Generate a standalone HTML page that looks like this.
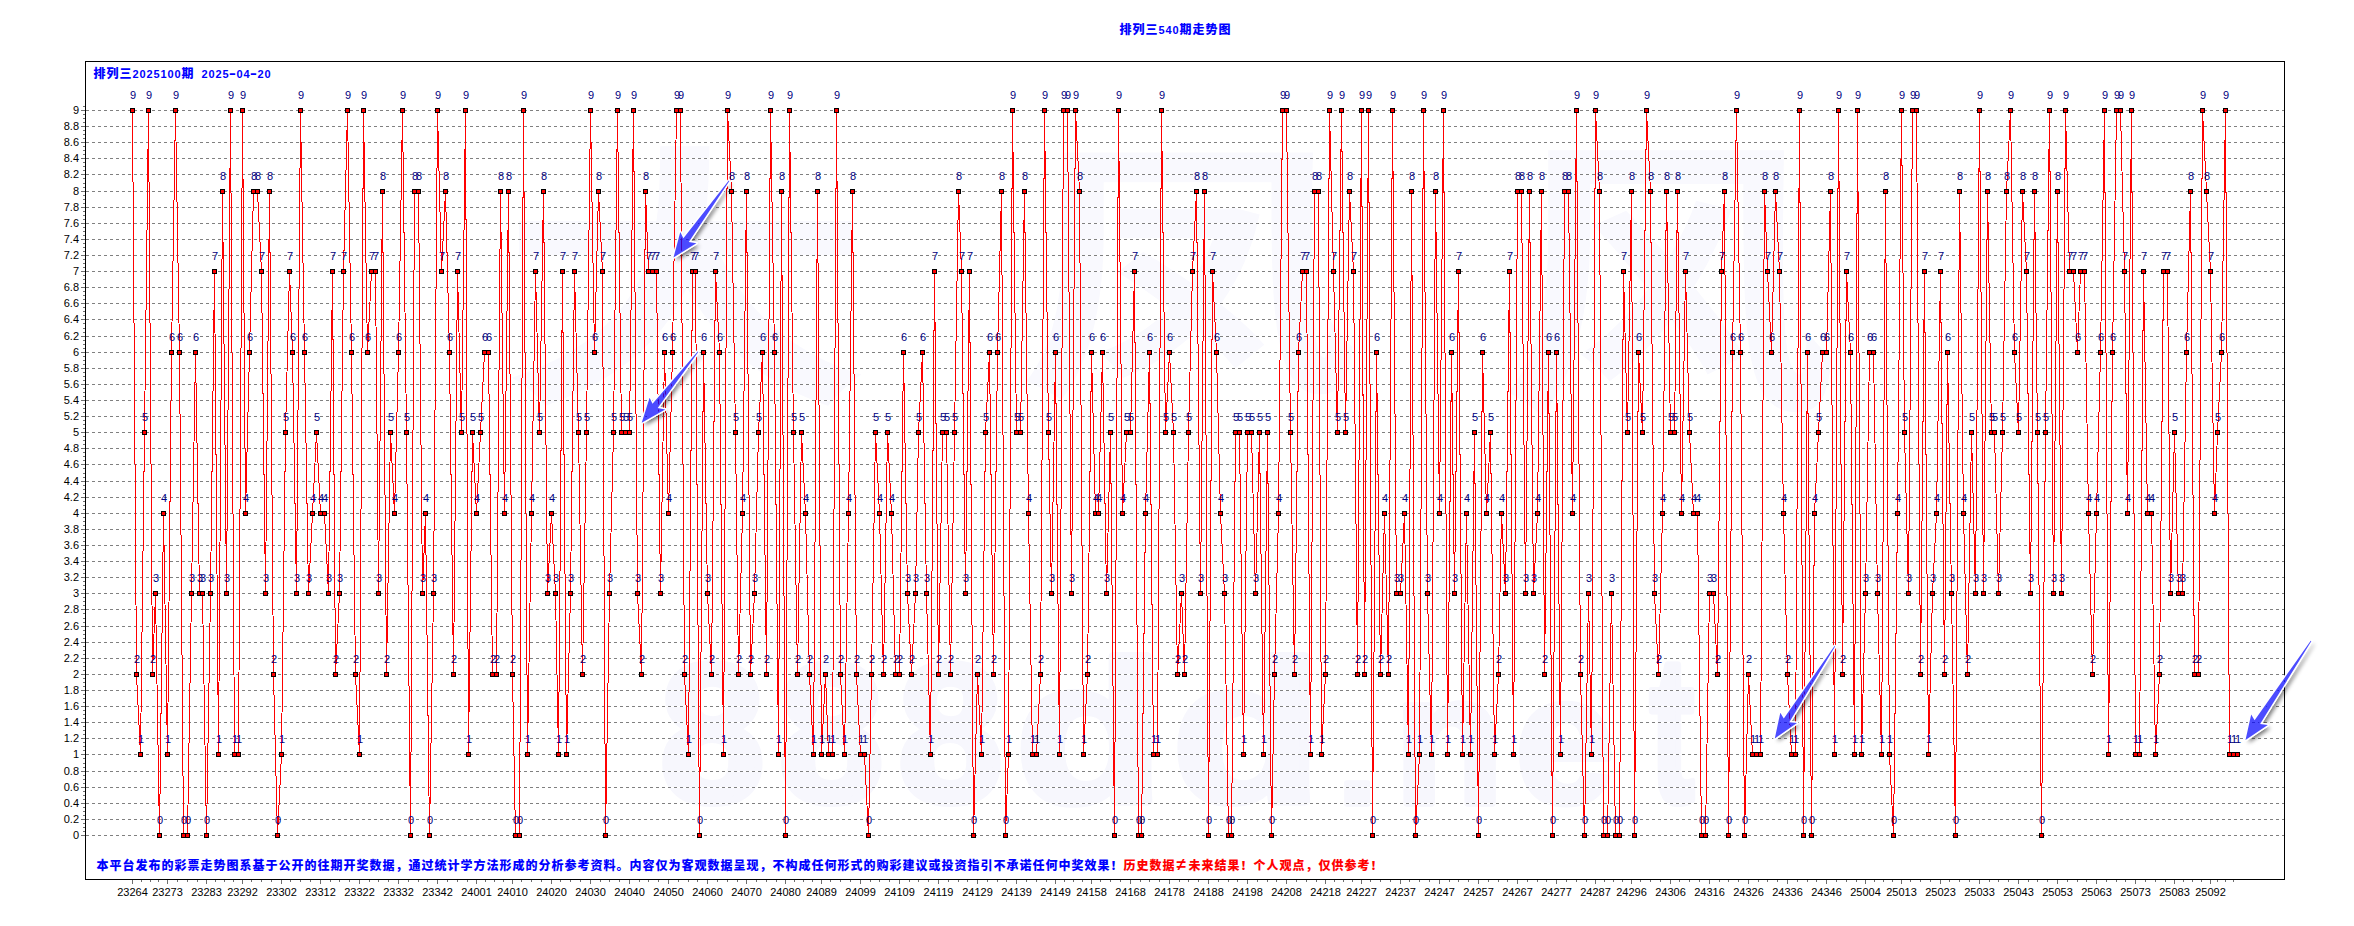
<!DOCTYPE html><html><head><meta charset="utf-8"><title>排列三540期走势图</title><style>
html,body{margin:0;padding:0;background:#fff;overflow:hidden}
svg{display:block}
.cn{font-family:"Liberation Sans","Noto Sans CJK SC",sans-serif;font-weight:900}
.ax{font-family:"Liberation Sans",sans-serif;font-size:11px;fill:#000}
.lb{font-family:"Liberation Sans",sans-serif;font-size:11px;fill:#000080}
</style></head><body>
<svg width="2354" height="926" viewBox="0 0 2354 926">
<rect x="0" y="0" width="2354" height="926" fill="#fff"/>
<g fill="#f7f7fd" stroke="#f7f7fd" stroke-width="8" stroke-linejoin="round" font-family="Liberation Sans,sans-serif" font-weight="bold" font-size="203"><text transform="matrix(0.9267 0 0 0.9706 660.04 801.36)">8</text><text transform="matrix(0.9267 0 0 0.9706 779.04 801.36)">8</text><text transform="matrix(0.9267 0 0 0.9706 898.04 801.36)">8</text><text transform="matrix(1.1942 0 0 0.9886 1015.45 801.32)">d</text><text transform="matrix(1.2039 0 0 0.9886 1172.37 801.32)">d</text><text transform="matrix(0.7107 0 0 0.6967 1337.15 803.80)">.</text><text transform="matrix(0.8776 0 0 0.9073 1394.59 803.40)">n</text><text transform="matrix(0.8704 0 0 0.8991 1515.74 801.60)">e</text><text transform="matrix(0.6587 0 0 1.0209 1649.68 801.36)">t</text></g>
<g fill="#f9f9fe" font-family="Noto Sans CJK SC,sans-serif" font-weight="700" font-size="300"><text transform="matrix(1.2518 0 0 0.9253 497.98 381.94)">大</text><text transform="matrix(1.1324 0 0 0.9015 1019.07 373.76)">凤</text><text transform="matrix(1.1259 0 0 0.9744 1498.87 388.72)">风</text></g>
<text class="cn" y="34" fill="#0000ff"><tspan x="1119.5 1132.5 1145.5" font-size="12">排列三</tspan><tspan x="1158.6 1165.6 1172.6" y="34" font-size="11" font-family="Liberation Sans,sans-serif" font-weight="bold">540</tspan><tspan x="1179.5 1192.5 1205.5 1218.5" font-size="12">期走势图</tspan></text>
<path d="M86 835.5H2284M86 819.5H2284M86 803.5H2284M86 787.5H2284M86 771.5H2284M86 754.5H2284M86 738.5H2284M86 722.5H2284M86 706.5H2284M86 690.5H2284M86 674.5H2284M86 658.5H2284M86 642.5H2284M86 626.5H2284M86 609.5H2284M86 593.5H2284M86 577.5H2284M86 561.5H2284M86 545.5H2284M86 529.5H2284M86 513.5H2284M86 497.5H2284M86 481.5H2284M86 464.5H2284M86 448.5H2284M86 432.5H2284M86 416.5H2284M86 400.5H2284M86 384.5H2284M86 368.5H2284M86 352.5H2284M86 336.5H2284M86 319.5H2284M86 303.5H2284M86 287.5H2284M86 271.5H2284M86 255.5H2284M86 239.5H2284M86 223.5H2284M86 207.5H2284M86 191.5H2284M86 174.5H2284M86 158.5H2284M86 142.5H2284M86 126.5H2284M86 110.5H2284" stroke="#fff" stroke-width="1" fill="none" shape-rendering="crispEdges"/>
<path d="M86 835.5H2284M86 819.5H2284M86 803.5H2284M86 787.5H2284M86 771.5H2284M86 754.5H2284M86 738.5H2284M86 722.5H2284M86 706.5H2284M86 690.5H2284M86 674.5H2284M86 658.5H2284M86 642.5H2284M86 626.5H2284M86 609.5H2284M86 593.5H2284M86 577.5H2284M86 561.5H2284M86 545.5H2284M86 529.5H2284M86 513.5H2284M86 497.5H2284M86 481.5H2284M86 464.5H2284M86 448.5H2284M86 432.5H2284M86 416.5H2284M86 400.5H2284M86 384.5H2284M86 368.5H2284M86 352.5H2284M86 336.5H2284M86 319.5H2284M86 303.5H2284M86 287.5H2284M86 271.5H2284M86 255.5H2284M86 239.5H2284M86 223.5H2284M86 207.5H2284M86 191.5H2284M86 174.5H2284M86 158.5H2284M86 142.5H2284M86 126.5H2284M86 110.5H2284" stroke="#808080" stroke-width="1" stroke-dasharray="3 3" fill="none" shape-rendering="crispEdges"/>
<path d="M81 835.5H85M83 831.5H85M83 827.5H85M83 823.5H85M81 819.5H85M83 815.5H85M83 811.5H85M83 807.5H85M81 803.5H85M83 799.5H85M83 795.5H85M83 791.5H85M81 787.5H85M83 783.5H85M83 779.5H85M83 775.5H85M81 771.5H85M83 767.5H85M83 763.5H85M83 758.5H85M81 754.5H85M83 750.5H85M83 746.5H85M83 742.5H85M81 738.5H85M83 734.5H85M83 730.5H85M83 726.5H85M81 722.5H85M83 718.5H85M83 714.5H85M83 710.5H85M81 706.5H85M83 702.5H85M83 698.5H85M83 694.5H85M81 690.5H85M83 686.5H85M83 682.5H85M83 678.5H85M81 674.5H85M83 670.5H85M83 666.5H85M83 662.5H85M81 658.5H85M83 654.5H85M83 650.5H85M83 646.5H85M81 642.5H85M83 638.5H85M83 634.5H85M83 630.5H85M81 626.5H85M83 622.5H85M83 618.5H85M83 613.5H85M81 609.5H85M83 605.5H85M83 601.5H85M83 597.5H85M81 593.5H85M83 589.5H85M83 585.5H85M83 581.5H85M81 577.5H85M83 573.5H85M83 569.5H85M83 565.5H85M81 561.5H85M83 557.5H85M83 553.5H85M83 549.5H85M81 545.5H85M83 541.5H85M83 537.5H85M83 533.5H85M81 529.5H85M83 525.5H85M83 521.5H85M83 517.5H85M81 513.5H85M83 509.5H85M83 505.5H85M83 501.5H85M81 497.5H85M83 493.5H85M83 489.5H85M83 485.5H85M81 481.5H85M83 477.5H85M83 473.5H85M83 468.5H85M81 464.5H85M83 460.5H85M83 456.5H85M83 452.5H85M81 448.5H85M83 444.5H85M83 440.5H85M83 436.5H85M81 432.5H85M83 428.5H85M83 424.5H85M83 420.5H85M81 416.5H85M83 412.5H85M83 408.5H85M83 404.5H85M81 400.5H85M83 396.5H85M83 392.5H85M83 388.5H85M81 384.5H85M83 380.5H85M83 376.5H85M83 372.5H85M81 368.5H85M83 364.5H85M83 360.5H85M83 356.5H85M81 352.5H85M83 348.5H85M83 344.5H85M83 340.5H85M81 336.5H85M83 332.5H85M83 328.5H85M83 323.5H85M81 319.5H85M83 315.5H85M83 311.5H85M83 307.5H85M81 303.5H85M83 299.5H85M83 295.5H85M83 291.5H85M81 287.5H85M83 283.5H85M83 279.5H85M83 275.5H85M81 271.5H85M83 267.5H85M83 263.5H85M83 259.5H85M81 255.5H85M83 251.5H85M83 247.5H85M83 243.5H85M81 239.5H85M83 235.5H85M83 231.5H85M83 227.5H85M81 223.5H85M83 219.5H85M83 215.5H85M83 211.5H85M81 207.5H85M83 203.5H85M83 199.5H85M83 195.5H85M81 191.5H85M83 187.5H85M83 183.5H85M83 178.5H85M81 174.5H85M83 170.5H85M83 166.5H85M83 162.5H85M81 158.5H85M83 154.5H85M83 150.5H85M83 146.5H85M81 142.5H85M83 138.5H85M83 134.5H85M83 130.5H85M81 126.5H85M83 122.5H85M83 118.5H85M83 114.5H85M81 110.5H85M83 106.5H85" stroke="#707070" stroke-width="1" fill="none" shape-rendering="crispEdges"/>
<text class="ax" x="79" y="839" text-anchor="end">0</text>
<text class="ax" x="79" y="823" text-anchor="end">0.2</text>
<text class="ax" x="79" y="807" text-anchor="end">0.4</text>
<text class="ax" x="79" y="791" text-anchor="end">0.6</text>
<text class="ax" x="79" y="775" text-anchor="end">0.8</text>
<text class="ax" x="79" y="758" text-anchor="end">1</text>
<text class="ax" x="79" y="742" text-anchor="end">1.2</text>
<text class="ax" x="79" y="726" text-anchor="end">1.4</text>
<text class="ax" x="79" y="710" text-anchor="end">1.6</text>
<text class="ax" x="79" y="694" text-anchor="end">1.8</text>
<text class="ax" x="79" y="678" text-anchor="end">2</text>
<text class="ax" x="79" y="662" text-anchor="end">2.2</text>
<text class="ax" x="79" y="646" text-anchor="end">2.4</text>
<text class="ax" x="79" y="630" text-anchor="end">2.6</text>
<text class="ax" x="79" y="613" text-anchor="end">2.8</text>
<text class="ax" x="79" y="597" text-anchor="end">3</text>
<text class="ax" x="79" y="581" text-anchor="end">3.2</text>
<text class="ax" x="79" y="565" text-anchor="end">3.4</text>
<text class="ax" x="79" y="549" text-anchor="end">3.6</text>
<text class="ax" x="79" y="533" text-anchor="end">3.8</text>
<text class="ax" x="79" y="517" text-anchor="end">4</text>
<text class="ax" x="79" y="501" text-anchor="end">4.2</text>
<text class="ax" x="79" y="485" text-anchor="end">4.4</text>
<text class="ax" x="79" y="468" text-anchor="end">4.6</text>
<text class="ax" x="79" y="452" text-anchor="end">4.8</text>
<text class="ax" x="79" y="436" text-anchor="end">5</text>
<text class="ax" x="79" y="420" text-anchor="end">5.2</text>
<text class="ax" x="79" y="404" text-anchor="end">5.4</text>
<text class="ax" x="79" y="388" text-anchor="end">5.6</text>
<text class="ax" x="79" y="372" text-anchor="end">5.8</text>
<text class="ax" x="79" y="356" text-anchor="end">6</text>
<text class="ax" x="79" y="340" text-anchor="end">6.2</text>
<text class="ax" x="79" y="323" text-anchor="end">6.4</text>
<text class="ax" x="79" y="307" text-anchor="end">6.6</text>
<text class="ax" x="79" y="291" text-anchor="end">6.8</text>
<text class="ax" x="79" y="275" text-anchor="end">7</text>
<text class="ax" x="79" y="259" text-anchor="end">7.2</text>
<text class="ax" x="79" y="243" text-anchor="end">7.4</text>
<text class="ax" x="79" y="227" text-anchor="end">7.6</text>
<text class="ax" x="79" y="211" text-anchor="end">7.8</text>
<text class="ax" x="79" y="195" text-anchor="end">8</text>
<text class="ax" x="79" y="178" text-anchor="end">8.2</text>
<text class="ax" x="79" y="162" text-anchor="end">8.4</text>
<text class="ax" x="79" y="146" text-anchor="end">8.6</text>
<text class="ax" x="79" y="130" text-anchor="end">8.8</text>
<text class="ax" x="79" y="114" text-anchor="end">9</text>
<text class="ax" x="132.5" y="896" text-anchor="middle">23264</text>
<text class="ax" x="167.5" y="896" text-anchor="middle">23273</text>
<text class="ax" x="206.5" y="896" text-anchor="middle">23283</text>
<text class="ax" x="242.5" y="896" text-anchor="middle">23292</text>
<text class="ax" x="281.5" y="896" text-anchor="middle">23302</text>
<text class="ax" x="320.5" y="896" text-anchor="middle">23312</text>
<text class="ax" x="359.5" y="896" text-anchor="middle">23322</text>
<text class="ax" x="398.5" y="896" text-anchor="middle">23332</text>
<text class="ax" x="437.5" y="896" text-anchor="middle">23342</text>
<text class="ax" x="476.5" y="896" text-anchor="middle">24001</text>
<text class="ax" x="512.5" y="896" text-anchor="middle">24010</text>
<text class="ax" x="551.5" y="896" text-anchor="middle">24020</text>
<text class="ax" x="590.5" y="896" text-anchor="middle">24030</text>
<text class="ax" x="629.5" y="896" text-anchor="middle">24040</text>
<text class="ax" x="668.5" y="896" text-anchor="middle">24050</text>
<text class="ax" x="707.5" y="896" text-anchor="middle">24060</text>
<text class="ax" x="746.5" y="896" text-anchor="middle">24070</text>
<text class="ax" x="785.5" y="896" text-anchor="middle">24080</text>
<text class="ax" x="821.5" y="896" text-anchor="middle">24089</text>
<text class="ax" x="860.5" y="896" text-anchor="middle">24099</text>
<text class="ax" x="899.5" y="896" text-anchor="middle">24109</text>
<text class="ax" x="938.5" y="896" text-anchor="middle">24119</text>
<text class="ax" x="977.5" y="896" text-anchor="middle">24129</text>
<text class="ax" x="1016.5" y="896" text-anchor="middle">24139</text>
<text class="ax" x="1055.5" y="896" text-anchor="middle">24149</text>
<text class="ax" x="1091.5" y="896" text-anchor="middle">24158</text>
<text class="ax" x="1130.5" y="896" text-anchor="middle">24168</text>
<text class="ax" x="1169.5" y="896" text-anchor="middle">24178</text>
<text class="ax" x="1208.5" y="896" text-anchor="middle">24188</text>
<text class="ax" x="1247.5" y="896" text-anchor="middle">24198</text>
<text class="ax" x="1286.5" y="896" text-anchor="middle">24208</text>
<text class="ax" x="1325.5" y="896" text-anchor="middle">24218</text>
<text class="ax" x="1361.5" y="896" text-anchor="middle">24227</text>
<text class="ax" x="1400.5" y="896" text-anchor="middle">24237</text>
<text class="ax" x="1439.5" y="896" text-anchor="middle">24247</text>
<text class="ax" x="1478.5" y="896" text-anchor="middle">24257</text>
<text class="ax" x="1517.5" y="896" text-anchor="middle">24267</text>
<text class="ax" x="1556.5" y="896" text-anchor="middle">24277</text>
<text class="ax" x="1595.5" y="896" text-anchor="middle">24287</text>
<text class="ax" x="1631.5" y="896" text-anchor="middle">24296</text>
<text class="ax" x="1670.5" y="896" text-anchor="middle">24306</text>
<text class="ax" x="1709.5" y="896" text-anchor="middle">24316</text>
<text class="ax" x="1748.5" y="896" text-anchor="middle">24326</text>
<text class="ax" x="1787.5" y="896" text-anchor="middle">24336</text>
<text class="ax" x="1826.5" y="896" text-anchor="middle">24346</text>
<text class="ax" x="1865.5" y="896" text-anchor="middle">25004</text>
<text class="ax" x="1901.5" y="896" text-anchor="middle">25013</text>
<text class="ax" x="1940.5" y="896" text-anchor="middle">25023</text>
<text class="ax" x="1979.5" y="896" text-anchor="middle">25033</text>
<text class="ax" x="2018.5" y="896" text-anchor="middle">25043</text>
<text class="ax" x="2057.5" y="896" text-anchor="middle">25053</text>
<text class="ax" x="2096.5" y="896" text-anchor="middle">25063</text>
<text class="ax" x="2135.5" y="896" text-anchor="middle">25073</text>
<text class="ax" x="2174.5" y="896" text-anchor="middle">25083</text>
<text class="ax" x="2210.5" y="896" text-anchor="middle">25092</text>
<path d="M132.5 880V884M141.5 880V882M150.5 880V882M158.5 880V882M167.5 880V884M177.5 880V882M187.5 880V882M197.5 880V882M206.5 880V884M215.5 880V882M224.5 880V882M233.5 880V882M242.5 880V884M251.5 880V882M261.5 880V882M271.5 880V882M281.5 880V884M290.5 880V882M300.5 880V882M310.5 880V882M320.5 880V884M330.5 880V882M339.5 880V882M349.5 880V882M359.5 880V884M369.5 880V882M378.5 880V882M388.5 880V882M398.5 880V884M408.5 880V882M418.5 880V882M427.5 880V882M437.5 880V884M447.5 880V882M457.5 880V882M467.5 880V882M476.5 880V884M485.5 880V882M494.5 880V882M503.5 880V882M512.5 880V884M521.5 880V882M531.5 880V882M541.5 880V882M551.5 880V884M560.5 880V882M570.5 880V882M580.5 880V882M590.5 880V884M600.5 880V882M609.5 880V882M619.5 880V882M629.5 880V884M639.5 880V882M648.5 880V882M658.5 880V882M668.5 880V884M678.5 880V882M688.5 880V882M697.5 880V882M707.5 880V884M717.5 880V882M727.5 880V882M737.5 880V882M746.5 880V884M756.5 880V882M766.5 880V882M776.5 880V882M785.5 880V884M794.5 880V882M803.5 880V882M812.5 880V882M821.5 880V884M830.5 880V882M840.5 880V882M850.5 880V882M860.5 880V884M870.5 880V882M879.5 880V882M889.5 880V882M899.5 880V884M909.5 880V882M918.5 880V882M928.5 880V882M938.5 880V884M948.5 880V882M958.5 880V882M967.5 880V882M977.5 880V884M987.5 880V882M997.5 880V882M1006.5 880V882M1016.5 880V884M1026.5 880V882M1036.5 880V882M1046.5 880V882M1055.5 880V884M1064.5 880V882M1073.5 880V882M1082.5 880V882M1091.5 880V884M1100.5 880V882M1110.5 880V882M1120.5 880V882M1130.5 880V884M1140.5 880V882M1149.5 880V882M1159.5 880V882M1169.5 880V884M1179.5 880V882M1188.5 880V882M1198.5 880V882M1208.5 880V884M1218.5 880V882M1228.5 880V882M1237.5 880V882M1247.5 880V884M1257.5 880V882M1267.5 880V882M1276.5 880V882M1286.5 880V884M1296.5 880V882M1306.5 880V882M1316.5 880V882M1325.5 880V884M1334.5 880V882M1343.5 880V882M1352.5 880V882M1361.5 880V884M1370.5 880V882M1380.5 880V882M1390.5 880V882M1400.5 880V884M1409.5 880V882M1419.5 880V882M1429.5 880V882M1439.5 880V884M1449.5 880V882M1458.5 880V882M1468.5 880V882M1478.5 880V884M1488.5 880V882M1498.5 880V882M1507.5 880V882M1517.5 880V884M1527.5 880V882M1537.5 880V882M1546.5 880V882M1556.5 880V884M1566.5 880V882M1576.5 880V882M1586.5 880V882M1595.5 880V884M1604.5 880V882M1613.5 880V882M1622.5 880V882M1631.5 880V884M1640.5 880V882M1650.5 880V882M1660.5 880V882M1670.5 880V884M1679.5 880V882M1689.5 880V882M1699.5 880V882M1709.5 880V884M1719.5 880V882M1728.5 880V882M1738.5 880V882M1748.5 880V884M1758.5 880V882M1767.5 880V882M1777.5 880V882M1787.5 880V884M1797.5 880V882M1807.5 880V882M1816.5 880V882M1826.5 880V884M1836.5 880V882M1846.5 880V882M1856.5 880V882M1865.5 880V884M1874.5 880V882M1883.5 880V882M1892.5 880V882M1901.5 880V884M1910.5 880V882M1920.5 880V882M1930.5 880V882M1940.5 880V884M1949.5 880V882M1959.5 880V882M1969.5 880V882M1979.5 880V884M1989.5 880V882M1998.5 880V882M2008.5 880V882M2018.5 880V884M2028.5 880V882M2037.5 880V882M2047.5 880V882M2057.5 880V884M2067.5 880V882M2077.5 880V882M2086.5 880V882M2096.5 880V884M2106.5 880V882M2116.5 880V882M2125.5 880V882M2135.5 880V884M2145.5 880V882M2155.5 880V882M2165.5 880V882M2174.5 880V884M2183.5 880V882M2192.5 880V882M2201.5 880V882M2210.5 880V884M2217.5 880V882M2225.5 880V882M2233.5 880V882" stroke="#707070" stroke-width="1" fill="none" shape-rendering="crispEdges"/>
<polyline points="132.5,110.5 136.5,674.5 140.5,754.5 144.5,432.5 148.5,110.5 152.5,674.5 155.5,593.5 159.5,835.5 163.5,513.5 167.5,754.5 171.5,352.5 175.5,110.5 179.5,352.5 183.5,835.5 187.5,835.5 191.5,593.5 195.5,352.5 199.5,593.5 202.5,593.5 206.5,835.5 210.5,593.5 214.5,271.5 218.5,754.5 222.5,191.5 226.5,593.5 230.5,110.5 234.5,754.5 238.5,754.5 242.5,110.5 245.5,513.5 249.5,352.5 253.5,191.5 257.5,191.5 261.5,271.5 265.5,593.5 269.5,191.5 273.5,674.5 277.5,835.5 281.5,754.5 285.5,432.5 289.5,271.5 292.5,352.5 296.5,593.5 300.5,110.5 304.5,352.5 308.5,593.5 312.5,513.5 316.5,432.5 320.5,513.5 324.5,513.5 328.5,593.5 332.5,271.5 335.5,674.5 339.5,593.5 343.5,271.5 347.5,110.5 351.5,352.5 355.5,674.5 359.5,754.5 363.5,110.5 367.5,352.5 371.5,271.5 375.5,271.5 378.5,593.5 382.5,191.5 386.5,674.5 390.5,432.5 394.5,513.5 398.5,352.5 402.5,110.5 406.5,432.5 410.5,835.5 414.5,191.5 418.5,191.5 422.5,593.5 425.5,513.5 429.5,835.5 433.5,593.5 437.5,110.5 441.5,271.5 445.5,191.5 449.5,352.5 453.5,674.5 457.5,271.5 461.5,432.5 465.5,110.5 468.5,754.5 472.5,432.5 476.5,513.5 480.5,432.5 484.5,352.5 488.5,352.5 492.5,674.5 496.5,674.5 500.5,191.5 504.5,513.5 508.5,191.5 512.5,674.5 515.5,835.5 519.5,835.5 523.5,110.5 527.5,754.5 531.5,513.5 535.5,271.5 539.5,432.5 543.5,191.5 547.5,593.5 551.5,513.5 555.5,593.5 558.5,754.5 562.5,271.5 566.5,754.5 570.5,593.5 574.5,271.5 578.5,432.5 582.5,674.5 586.5,432.5 590.5,110.5 594.5,352.5 598.5,191.5 602.5,271.5 605.5,835.5 609.5,593.5 613.5,432.5 617.5,110.5 621.5,432.5 625.5,432.5 629.5,432.5 633.5,110.5 637.5,593.5 641.5,674.5 645.5,191.5 648.5,271.5 652.5,271.5 656.5,271.5 660.5,593.5 664.5,352.5 668.5,513.5 672.5,352.5 676.5,110.5 680.5,110.5 684.5,674.5 688.5,754.5 692.5,271.5 695.5,271.5 699.5,835.5 703.5,352.5 707.5,593.5 711.5,674.5 715.5,271.5 719.5,352.5 723.5,754.5 727.5,110.5 731.5,191.5 735.5,432.5 738.5,674.5 742.5,513.5 746.5,191.5 750.5,674.5 754.5,593.5 758.5,432.5 762.5,352.5 766.5,674.5 770.5,110.5 774.5,352.5 778.5,754.5 781.5,191.5 785.5,835.5 789.5,110.5 793.5,432.5 797.5,674.5 801.5,432.5 805.5,513.5 809.5,674.5 813.5,754.5 817.5,191.5 821.5,754.5 825.5,674.5 828.5,754.5 832.5,754.5 836.5,110.5 840.5,674.5 844.5,754.5 848.5,513.5 852.5,191.5 856.5,674.5 860.5,754.5 864.5,754.5 868.5,835.5 871.5,674.5 875.5,432.5 879.5,513.5 883.5,674.5 887.5,432.5 891.5,513.5 895.5,674.5 899.5,674.5 903.5,352.5 907.5,593.5 911.5,674.5 915.5,593.5 918.5,432.5 922.5,352.5 926.5,593.5 930.5,754.5 934.5,271.5 938.5,674.5 942.5,432.5 946.5,432.5 950.5,674.5 954.5,432.5 958.5,191.5 961.5,271.5 965.5,593.5 969.5,271.5 973.5,835.5 977.5,674.5 981.5,754.5 985.5,432.5 989.5,352.5 993.5,674.5 997.5,352.5 1001.5,191.5 1005.5,835.5 1008.5,754.5 1012.5,110.5 1016.5,432.5 1020.5,432.5 1024.5,191.5 1028.5,513.5 1032.5,754.5 1036.5,754.5 1040.5,674.5 1044.5,110.5 1048.5,432.5 1051.5,593.5 1055.5,352.5 1059.5,754.5 1063.5,110.5 1067.5,110.5 1071.5,593.5 1075.5,110.5 1079.5,191.5 1083.5,754.5 1087.5,674.5 1091.5,352.5 1095.5,513.5 1098.5,513.5 1102.5,352.5 1106.5,593.5 1110.5,432.5 1114.5,835.5 1118.5,110.5 1122.5,513.5 1126.5,432.5 1130.5,432.5 1134.5,271.5 1138.5,835.5 1141.5,835.5 1145.5,513.5 1149.5,352.5 1153.5,754.5 1157.5,754.5 1161.5,110.5 1165.5,432.5 1169.5,352.5 1173.5,432.5 1177.5,674.5 1181.5,593.5 1184.5,674.5 1188.5,432.5 1192.5,271.5 1196.5,191.5 1200.5,593.5 1204.5,191.5 1208.5,835.5 1212.5,271.5 1216.5,352.5 1220.5,513.5 1224.5,593.5 1228.5,835.5 1231.5,835.5 1235.5,432.5 1239.5,432.5 1243.5,754.5 1247.5,432.5 1251.5,432.5 1255.5,593.5 1259.5,432.5 1263.5,754.5 1267.5,432.5 1271.5,835.5 1274.5,674.5 1278.5,513.5 1282.5,110.5 1286.5,110.5 1290.5,432.5 1294.5,674.5 1298.5,352.5 1302.5,271.5 1306.5,271.5 1310.5,754.5 1314.5,191.5 1318.5,191.5 1321.5,754.5 1325.5,674.5 1329.5,110.5 1333.5,271.5 1337.5,432.5 1341.5,110.5 1345.5,432.5 1349.5,191.5 1353.5,271.5 1357.5,674.5 1361.5,110.5 1364.5,674.5 1368.5,110.5 1372.5,835.5 1376.5,352.5 1380.5,674.5 1384.5,513.5 1388.5,674.5 1392.5,110.5 1396.5,593.5 1400.5,593.5 1404.5,513.5 1408.5,754.5 1411.5,191.5 1415.5,835.5 1419.5,754.5 1423.5,110.5 1427.5,593.5 1431.5,754.5 1435.5,191.5 1439.5,513.5 1443.5,110.5 1447.5,754.5 1451.5,352.5 1454.5,593.5 1458.5,271.5 1462.5,754.5 1466.5,513.5 1470.5,754.5 1474.5,432.5 1478.5,835.5 1482.5,352.5 1486.5,513.5 1490.5,432.5 1494.5,754.5 1498.5,674.5 1501.5,513.5 1505.5,593.5 1509.5,271.5 1513.5,754.5 1517.5,191.5 1521.5,191.5 1525.5,593.5 1529.5,191.5 1533.5,593.5 1537.5,513.5 1541.5,191.5 1544.5,674.5 1548.5,352.5 1552.5,835.5 1556.5,352.5 1560.5,754.5 1564.5,191.5 1568.5,191.5 1572.5,513.5 1576.5,110.5 1580.5,674.5 1584.5,835.5 1588.5,593.5 1591.5,754.5 1595.5,110.5 1599.5,191.5 1603.5,835.5 1607.5,835.5 1611.5,593.5 1615.5,835.5 1619.5,835.5 1623.5,271.5 1627.5,432.5 1631.5,191.5 1634.5,835.5 1638.5,352.5 1642.5,432.5 1646.5,110.5 1650.5,191.5 1654.5,593.5 1658.5,674.5 1662.5,513.5 1666.5,191.5 1670.5,432.5 1674.5,432.5 1677.5,191.5 1681.5,513.5 1685.5,271.5 1689.5,432.5 1693.5,513.5 1697.5,513.5 1701.5,835.5 1705.5,835.5 1709.5,593.5 1713.5,593.5 1717.5,674.5 1721.5,271.5 1724.5,191.5 1728.5,835.5 1732.5,352.5 1736.5,110.5 1740.5,352.5 1744.5,835.5 1748.5,674.5 1752.5,754.5 1756.5,754.5 1760.5,754.5 1764.5,191.5 1767.5,271.5 1771.5,352.5 1775.5,191.5 1779.5,271.5 1783.5,513.5 1787.5,674.5 1791.5,754.5 1795.5,754.5 1799.5,110.5 1803.5,835.5 1807.5,352.5 1811.5,835.5 1814.5,513.5 1818.5,432.5 1822.5,352.5 1826.5,352.5 1830.5,191.5 1834.5,754.5 1838.5,110.5 1842.5,674.5 1846.5,271.5 1850.5,352.5 1854.5,754.5 1857.5,110.5 1861.5,754.5 1865.5,593.5 1869.5,352.5 1873.5,352.5 1877.5,593.5 1881.5,754.5 1885.5,191.5 1889.5,754.5 1893.5,835.5 1897.5,513.5 1901.5,110.5 1904.5,432.5 1908.5,593.5 1912.5,110.5 1916.5,110.5 1920.5,674.5 1924.5,271.5 1928.5,754.5 1932.5,593.5 1936.5,513.5 1940.5,271.5 1944.5,674.5 1947.5,352.5 1951.5,593.5 1955.5,835.5 1959.5,191.5 1963.5,513.5 1967.5,674.5 1971.5,432.5 1975.5,593.5 1979.5,110.5 1983.5,593.5 1987.5,191.5 1991.5,432.5 1994.5,432.5 1998.5,593.5 2002.5,432.5 2006.5,191.5 2010.5,110.5 2014.5,352.5 2018.5,432.5 2022.5,191.5 2026.5,271.5 2030.5,593.5 2034.5,191.5 2037.5,432.5 2041.5,835.5 2045.5,432.5 2049.5,110.5 2053.5,593.5 2057.5,191.5 2061.5,593.5 2065.5,110.5 2069.5,271.5 2073.5,271.5 2077.5,352.5 2080.5,271.5 2084.5,271.5 2088.5,513.5 2092.5,674.5 2096.5,513.5 2100.5,352.5 2104.5,110.5 2108.5,754.5 2112.5,352.5 2116.5,110.5 2120.5,110.5 2124.5,271.5 2127.5,513.5 2131.5,110.5 2135.5,754.5 2139.5,754.5 2143.5,271.5 2147.5,513.5 2151.5,513.5 2155.5,754.5 2159.5,674.5 2163.5,271.5 2167.5,271.5 2170.5,593.5 2174.5,432.5 2178.5,593.5 2182.5,593.5 2186.5,352.5 2190.5,191.5 2194.5,674.5 2198.5,674.5 2202.5,110.5 2206.5,191.5 2210.5,271.5 2214.5,513.5 2217.5,432.5 2221.5,352.5 2225.5,110.5 2229.5,754.5 2233.5,754.5 2237.5,754.5" fill="none" stroke="#ff0000" stroke-width="1" shape-rendering="crispEdges"/>
<defs><g id="m"><rect x="-2" y="-2" width="5" height="5" fill="#000"/><rect x="-1" y="-1" width="3" height="3" fill="#f00"/></g></defs>
<g shape-rendering="crispEdges"><use href="#m" x="132" y="110"/><use href="#m" x="136" y="674"/><use href="#m" x="140" y="754"/><use href="#m" x="144" y="432"/><use href="#m" x="148" y="110"/><use href="#m" x="152" y="674"/><use href="#m" x="155" y="593"/><use href="#m" x="159" y="835"/><use href="#m" x="163" y="513"/><use href="#m" x="167" y="754"/><use href="#m" x="171" y="352"/><use href="#m" x="175" y="110"/><use href="#m" x="179" y="352"/><use href="#m" x="183" y="835"/><use href="#m" x="187" y="835"/><use href="#m" x="191" y="593"/><use href="#m" x="195" y="352"/><use href="#m" x="199" y="593"/><use href="#m" x="202" y="593"/><use href="#m" x="206" y="835"/><use href="#m" x="210" y="593"/><use href="#m" x="214" y="271"/><use href="#m" x="218" y="754"/><use href="#m" x="222" y="191"/><use href="#m" x="226" y="593"/><use href="#m" x="230" y="110"/><use href="#m" x="234" y="754"/><use href="#m" x="238" y="754"/><use href="#m" x="242" y="110"/><use href="#m" x="245" y="513"/><use href="#m" x="249" y="352"/><use href="#m" x="253" y="191"/><use href="#m" x="257" y="191"/><use href="#m" x="261" y="271"/><use href="#m" x="265" y="593"/><use href="#m" x="269" y="191"/><use href="#m" x="273" y="674"/><use href="#m" x="277" y="835"/><use href="#m" x="281" y="754"/><use href="#m" x="285" y="432"/><use href="#m" x="289" y="271"/><use href="#m" x="292" y="352"/><use href="#m" x="296" y="593"/><use href="#m" x="300" y="110"/><use href="#m" x="304" y="352"/><use href="#m" x="308" y="593"/><use href="#m" x="312" y="513"/><use href="#m" x="316" y="432"/><use href="#m" x="320" y="513"/><use href="#m" x="324" y="513"/><use href="#m" x="328" y="593"/><use href="#m" x="332" y="271"/><use href="#m" x="335" y="674"/><use href="#m" x="339" y="593"/><use href="#m" x="343" y="271"/><use href="#m" x="347" y="110"/><use href="#m" x="351" y="352"/><use href="#m" x="355" y="674"/><use href="#m" x="359" y="754"/><use href="#m" x="363" y="110"/><use href="#m" x="367" y="352"/><use href="#m" x="371" y="271"/><use href="#m" x="375" y="271"/><use href="#m" x="378" y="593"/><use href="#m" x="382" y="191"/><use href="#m" x="386" y="674"/><use href="#m" x="390" y="432"/><use href="#m" x="394" y="513"/><use href="#m" x="398" y="352"/><use href="#m" x="402" y="110"/><use href="#m" x="406" y="432"/><use href="#m" x="410" y="835"/><use href="#m" x="414" y="191"/><use href="#m" x="418" y="191"/><use href="#m" x="422" y="593"/><use href="#m" x="425" y="513"/><use href="#m" x="429" y="835"/><use href="#m" x="433" y="593"/><use href="#m" x="437" y="110"/><use href="#m" x="441" y="271"/><use href="#m" x="445" y="191"/><use href="#m" x="449" y="352"/><use href="#m" x="453" y="674"/><use href="#m" x="457" y="271"/><use href="#m" x="461" y="432"/><use href="#m" x="465" y="110"/><use href="#m" x="468" y="754"/><use href="#m" x="472" y="432"/><use href="#m" x="476" y="513"/><use href="#m" x="480" y="432"/><use href="#m" x="484" y="352"/><use href="#m" x="488" y="352"/><use href="#m" x="492" y="674"/><use href="#m" x="496" y="674"/><use href="#m" x="500" y="191"/><use href="#m" x="504" y="513"/><use href="#m" x="508" y="191"/><use href="#m" x="512" y="674"/><use href="#m" x="515" y="835"/><use href="#m" x="519" y="835"/><use href="#m" x="523" y="110"/><use href="#m" x="527" y="754"/><use href="#m" x="531" y="513"/><use href="#m" x="535" y="271"/><use href="#m" x="539" y="432"/><use href="#m" x="543" y="191"/><use href="#m" x="547" y="593"/><use href="#m" x="551" y="513"/><use href="#m" x="555" y="593"/><use href="#m" x="558" y="754"/><use href="#m" x="562" y="271"/><use href="#m" x="566" y="754"/><use href="#m" x="570" y="593"/><use href="#m" x="574" y="271"/><use href="#m" x="578" y="432"/><use href="#m" x="582" y="674"/><use href="#m" x="586" y="432"/><use href="#m" x="590" y="110"/><use href="#m" x="594" y="352"/><use href="#m" x="598" y="191"/><use href="#m" x="602" y="271"/><use href="#m" x="605" y="835"/><use href="#m" x="609" y="593"/><use href="#m" x="613" y="432"/><use href="#m" x="617" y="110"/><use href="#m" x="621" y="432"/><use href="#m" x="625" y="432"/><use href="#m" x="629" y="432"/><use href="#m" x="633" y="110"/><use href="#m" x="637" y="593"/><use href="#m" x="641" y="674"/><use href="#m" x="645" y="191"/><use href="#m" x="648" y="271"/><use href="#m" x="652" y="271"/><use href="#m" x="656" y="271"/><use href="#m" x="660" y="593"/><use href="#m" x="664" y="352"/><use href="#m" x="668" y="513"/><use href="#m" x="672" y="352"/><use href="#m" x="676" y="110"/><use href="#m" x="680" y="110"/><use href="#m" x="684" y="674"/><use href="#m" x="688" y="754"/><use href="#m" x="692" y="271"/><use href="#m" x="695" y="271"/><use href="#m" x="699" y="835"/><use href="#m" x="703" y="352"/><use href="#m" x="707" y="593"/><use href="#m" x="711" y="674"/><use href="#m" x="715" y="271"/><use href="#m" x="719" y="352"/><use href="#m" x="723" y="754"/><use href="#m" x="727" y="110"/><use href="#m" x="731" y="191"/><use href="#m" x="735" y="432"/><use href="#m" x="738" y="674"/><use href="#m" x="742" y="513"/><use href="#m" x="746" y="191"/><use href="#m" x="750" y="674"/><use href="#m" x="754" y="593"/><use href="#m" x="758" y="432"/><use href="#m" x="762" y="352"/><use href="#m" x="766" y="674"/><use href="#m" x="770" y="110"/><use href="#m" x="774" y="352"/><use href="#m" x="778" y="754"/><use href="#m" x="781" y="191"/><use href="#m" x="785" y="835"/><use href="#m" x="789" y="110"/><use href="#m" x="793" y="432"/><use href="#m" x="797" y="674"/><use href="#m" x="801" y="432"/><use href="#m" x="805" y="513"/><use href="#m" x="809" y="674"/><use href="#m" x="813" y="754"/><use href="#m" x="817" y="191"/><use href="#m" x="821" y="754"/><use href="#m" x="825" y="674"/><use href="#m" x="828" y="754"/><use href="#m" x="832" y="754"/><use href="#m" x="836" y="110"/><use href="#m" x="840" y="674"/><use href="#m" x="844" y="754"/><use href="#m" x="848" y="513"/><use href="#m" x="852" y="191"/><use href="#m" x="856" y="674"/><use href="#m" x="860" y="754"/><use href="#m" x="864" y="754"/><use href="#m" x="868" y="835"/><use href="#m" x="871" y="674"/><use href="#m" x="875" y="432"/><use href="#m" x="879" y="513"/><use href="#m" x="883" y="674"/><use href="#m" x="887" y="432"/><use href="#m" x="891" y="513"/><use href="#m" x="895" y="674"/><use href="#m" x="899" y="674"/><use href="#m" x="903" y="352"/><use href="#m" x="907" y="593"/><use href="#m" x="911" y="674"/><use href="#m" x="915" y="593"/><use href="#m" x="918" y="432"/><use href="#m" x="922" y="352"/><use href="#m" x="926" y="593"/><use href="#m" x="930" y="754"/><use href="#m" x="934" y="271"/><use href="#m" x="938" y="674"/><use href="#m" x="942" y="432"/><use href="#m" x="946" y="432"/><use href="#m" x="950" y="674"/><use href="#m" x="954" y="432"/><use href="#m" x="958" y="191"/><use href="#m" x="961" y="271"/><use href="#m" x="965" y="593"/><use href="#m" x="969" y="271"/><use href="#m" x="973" y="835"/><use href="#m" x="977" y="674"/><use href="#m" x="981" y="754"/><use href="#m" x="985" y="432"/><use href="#m" x="989" y="352"/><use href="#m" x="993" y="674"/><use href="#m" x="997" y="352"/><use href="#m" x="1001" y="191"/><use href="#m" x="1005" y="835"/><use href="#m" x="1008" y="754"/><use href="#m" x="1012" y="110"/><use href="#m" x="1016" y="432"/><use href="#m" x="1020" y="432"/><use href="#m" x="1024" y="191"/><use href="#m" x="1028" y="513"/><use href="#m" x="1032" y="754"/><use href="#m" x="1036" y="754"/><use href="#m" x="1040" y="674"/><use href="#m" x="1044" y="110"/><use href="#m" x="1048" y="432"/><use href="#m" x="1051" y="593"/><use href="#m" x="1055" y="352"/><use href="#m" x="1059" y="754"/><use href="#m" x="1063" y="110"/><use href="#m" x="1067" y="110"/><use href="#m" x="1071" y="593"/><use href="#m" x="1075" y="110"/><use href="#m" x="1079" y="191"/><use href="#m" x="1083" y="754"/><use href="#m" x="1087" y="674"/><use href="#m" x="1091" y="352"/><use href="#m" x="1095" y="513"/><use href="#m" x="1098" y="513"/><use href="#m" x="1102" y="352"/><use href="#m" x="1106" y="593"/><use href="#m" x="1110" y="432"/><use href="#m" x="1114" y="835"/><use href="#m" x="1118" y="110"/><use href="#m" x="1122" y="513"/><use href="#m" x="1126" y="432"/><use href="#m" x="1130" y="432"/><use href="#m" x="1134" y="271"/><use href="#m" x="1138" y="835"/><use href="#m" x="1141" y="835"/><use href="#m" x="1145" y="513"/><use href="#m" x="1149" y="352"/><use href="#m" x="1153" y="754"/><use href="#m" x="1157" y="754"/><use href="#m" x="1161" y="110"/><use href="#m" x="1165" y="432"/><use href="#m" x="1169" y="352"/><use href="#m" x="1173" y="432"/><use href="#m" x="1177" y="674"/><use href="#m" x="1181" y="593"/><use href="#m" x="1184" y="674"/><use href="#m" x="1188" y="432"/><use href="#m" x="1192" y="271"/><use href="#m" x="1196" y="191"/><use href="#m" x="1200" y="593"/><use href="#m" x="1204" y="191"/><use href="#m" x="1208" y="835"/><use href="#m" x="1212" y="271"/><use href="#m" x="1216" y="352"/><use href="#m" x="1220" y="513"/><use href="#m" x="1224" y="593"/><use href="#m" x="1228" y="835"/><use href="#m" x="1231" y="835"/><use href="#m" x="1235" y="432"/><use href="#m" x="1239" y="432"/><use href="#m" x="1243" y="754"/><use href="#m" x="1247" y="432"/><use href="#m" x="1251" y="432"/><use href="#m" x="1255" y="593"/><use href="#m" x="1259" y="432"/><use href="#m" x="1263" y="754"/><use href="#m" x="1267" y="432"/><use href="#m" x="1271" y="835"/><use href="#m" x="1274" y="674"/><use href="#m" x="1278" y="513"/><use href="#m" x="1282" y="110"/><use href="#m" x="1286" y="110"/><use href="#m" x="1290" y="432"/><use href="#m" x="1294" y="674"/><use href="#m" x="1298" y="352"/><use href="#m" x="1302" y="271"/><use href="#m" x="1306" y="271"/><use href="#m" x="1310" y="754"/><use href="#m" x="1314" y="191"/><use href="#m" x="1318" y="191"/><use href="#m" x="1321" y="754"/><use href="#m" x="1325" y="674"/><use href="#m" x="1329" y="110"/><use href="#m" x="1333" y="271"/><use href="#m" x="1337" y="432"/><use href="#m" x="1341" y="110"/><use href="#m" x="1345" y="432"/><use href="#m" x="1349" y="191"/><use href="#m" x="1353" y="271"/><use href="#m" x="1357" y="674"/><use href="#m" x="1361" y="110"/><use href="#m" x="1364" y="674"/><use href="#m" x="1368" y="110"/><use href="#m" x="1372" y="835"/><use href="#m" x="1376" y="352"/><use href="#m" x="1380" y="674"/><use href="#m" x="1384" y="513"/><use href="#m" x="1388" y="674"/><use href="#m" x="1392" y="110"/><use href="#m" x="1396" y="593"/><use href="#m" x="1400" y="593"/><use href="#m" x="1404" y="513"/><use href="#m" x="1408" y="754"/><use href="#m" x="1411" y="191"/><use href="#m" x="1415" y="835"/><use href="#m" x="1419" y="754"/><use href="#m" x="1423" y="110"/><use href="#m" x="1427" y="593"/><use href="#m" x="1431" y="754"/><use href="#m" x="1435" y="191"/><use href="#m" x="1439" y="513"/><use href="#m" x="1443" y="110"/><use href="#m" x="1447" y="754"/><use href="#m" x="1451" y="352"/><use href="#m" x="1454" y="593"/><use href="#m" x="1458" y="271"/><use href="#m" x="1462" y="754"/><use href="#m" x="1466" y="513"/><use href="#m" x="1470" y="754"/><use href="#m" x="1474" y="432"/><use href="#m" x="1478" y="835"/><use href="#m" x="1482" y="352"/><use href="#m" x="1486" y="513"/><use href="#m" x="1490" y="432"/><use href="#m" x="1494" y="754"/><use href="#m" x="1498" y="674"/><use href="#m" x="1501" y="513"/><use href="#m" x="1505" y="593"/><use href="#m" x="1509" y="271"/><use href="#m" x="1513" y="754"/><use href="#m" x="1517" y="191"/><use href="#m" x="1521" y="191"/><use href="#m" x="1525" y="593"/><use href="#m" x="1529" y="191"/><use href="#m" x="1533" y="593"/><use href="#m" x="1537" y="513"/><use href="#m" x="1541" y="191"/><use href="#m" x="1544" y="674"/><use href="#m" x="1548" y="352"/><use href="#m" x="1552" y="835"/><use href="#m" x="1556" y="352"/><use href="#m" x="1560" y="754"/><use href="#m" x="1564" y="191"/><use href="#m" x="1568" y="191"/><use href="#m" x="1572" y="513"/><use href="#m" x="1576" y="110"/><use href="#m" x="1580" y="674"/><use href="#m" x="1584" y="835"/><use href="#m" x="1588" y="593"/><use href="#m" x="1591" y="754"/><use href="#m" x="1595" y="110"/><use href="#m" x="1599" y="191"/><use href="#m" x="1603" y="835"/><use href="#m" x="1607" y="835"/><use href="#m" x="1611" y="593"/><use href="#m" x="1615" y="835"/><use href="#m" x="1619" y="835"/><use href="#m" x="1623" y="271"/><use href="#m" x="1627" y="432"/><use href="#m" x="1631" y="191"/><use href="#m" x="1634" y="835"/><use href="#m" x="1638" y="352"/><use href="#m" x="1642" y="432"/><use href="#m" x="1646" y="110"/><use href="#m" x="1650" y="191"/><use href="#m" x="1654" y="593"/><use href="#m" x="1658" y="674"/><use href="#m" x="1662" y="513"/><use href="#m" x="1666" y="191"/><use href="#m" x="1670" y="432"/><use href="#m" x="1674" y="432"/><use href="#m" x="1677" y="191"/><use href="#m" x="1681" y="513"/><use href="#m" x="1685" y="271"/><use href="#m" x="1689" y="432"/><use href="#m" x="1693" y="513"/><use href="#m" x="1697" y="513"/><use href="#m" x="1701" y="835"/><use href="#m" x="1705" y="835"/><use href="#m" x="1709" y="593"/><use href="#m" x="1713" y="593"/><use href="#m" x="1717" y="674"/><use href="#m" x="1721" y="271"/><use href="#m" x="1724" y="191"/><use href="#m" x="1728" y="835"/><use href="#m" x="1732" y="352"/><use href="#m" x="1736" y="110"/><use href="#m" x="1740" y="352"/><use href="#m" x="1744" y="835"/><use href="#m" x="1748" y="674"/><use href="#m" x="1752" y="754"/><use href="#m" x="1756" y="754"/><use href="#m" x="1760" y="754"/><use href="#m" x="1764" y="191"/><use href="#m" x="1767" y="271"/><use href="#m" x="1771" y="352"/><use href="#m" x="1775" y="191"/><use href="#m" x="1779" y="271"/><use href="#m" x="1783" y="513"/><use href="#m" x="1787" y="674"/><use href="#m" x="1791" y="754"/><use href="#m" x="1795" y="754"/><use href="#m" x="1799" y="110"/><use href="#m" x="1803" y="835"/><use href="#m" x="1807" y="352"/><use href="#m" x="1811" y="835"/><use href="#m" x="1814" y="513"/><use href="#m" x="1818" y="432"/><use href="#m" x="1822" y="352"/><use href="#m" x="1826" y="352"/><use href="#m" x="1830" y="191"/><use href="#m" x="1834" y="754"/><use href="#m" x="1838" y="110"/><use href="#m" x="1842" y="674"/><use href="#m" x="1846" y="271"/><use href="#m" x="1850" y="352"/><use href="#m" x="1854" y="754"/><use href="#m" x="1857" y="110"/><use href="#m" x="1861" y="754"/><use href="#m" x="1865" y="593"/><use href="#m" x="1869" y="352"/><use href="#m" x="1873" y="352"/><use href="#m" x="1877" y="593"/><use href="#m" x="1881" y="754"/><use href="#m" x="1885" y="191"/><use href="#m" x="1889" y="754"/><use href="#m" x="1893" y="835"/><use href="#m" x="1897" y="513"/><use href="#m" x="1901" y="110"/><use href="#m" x="1904" y="432"/><use href="#m" x="1908" y="593"/><use href="#m" x="1912" y="110"/><use href="#m" x="1916" y="110"/><use href="#m" x="1920" y="674"/><use href="#m" x="1924" y="271"/><use href="#m" x="1928" y="754"/><use href="#m" x="1932" y="593"/><use href="#m" x="1936" y="513"/><use href="#m" x="1940" y="271"/><use href="#m" x="1944" y="674"/><use href="#m" x="1947" y="352"/><use href="#m" x="1951" y="593"/><use href="#m" x="1955" y="835"/><use href="#m" x="1959" y="191"/><use href="#m" x="1963" y="513"/><use href="#m" x="1967" y="674"/><use href="#m" x="1971" y="432"/><use href="#m" x="1975" y="593"/><use href="#m" x="1979" y="110"/><use href="#m" x="1983" y="593"/><use href="#m" x="1987" y="191"/><use href="#m" x="1991" y="432"/><use href="#m" x="1994" y="432"/><use href="#m" x="1998" y="593"/><use href="#m" x="2002" y="432"/><use href="#m" x="2006" y="191"/><use href="#m" x="2010" y="110"/><use href="#m" x="2014" y="352"/><use href="#m" x="2018" y="432"/><use href="#m" x="2022" y="191"/><use href="#m" x="2026" y="271"/><use href="#m" x="2030" y="593"/><use href="#m" x="2034" y="191"/><use href="#m" x="2037" y="432"/><use href="#m" x="2041" y="835"/><use href="#m" x="2045" y="432"/><use href="#m" x="2049" y="110"/><use href="#m" x="2053" y="593"/><use href="#m" x="2057" y="191"/><use href="#m" x="2061" y="593"/><use href="#m" x="2065" y="110"/><use href="#m" x="2069" y="271"/><use href="#m" x="2073" y="271"/><use href="#m" x="2077" y="352"/><use href="#m" x="2080" y="271"/><use href="#m" x="2084" y="271"/><use href="#m" x="2088" y="513"/><use href="#m" x="2092" y="674"/><use href="#m" x="2096" y="513"/><use href="#m" x="2100" y="352"/><use href="#m" x="2104" y="110"/><use href="#m" x="2108" y="754"/><use href="#m" x="2112" y="352"/><use href="#m" x="2116" y="110"/><use href="#m" x="2120" y="110"/><use href="#m" x="2124" y="271"/><use href="#m" x="2127" y="513"/><use href="#m" x="2131" y="110"/><use href="#m" x="2135" y="754"/><use href="#m" x="2139" y="754"/><use href="#m" x="2143" y="271"/><use href="#m" x="2147" y="513"/><use href="#m" x="2151" y="513"/><use href="#m" x="2155" y="754"/><use href="#m" x="2159" y="674"/><use href="#m" x="2163" y="271"/><use href="#m" x="2167" y="271"/><use href="#m" x="2170" y="593"/><use href="#m" x="2174" y="432"/><use href="#m" x="2178" y="593"/><use href="#m" x="2182" y="593"/><use href="#m" x="2186" y="352"/><use href="#m" x="2190" y="191"/><use href="#m" x="2194" y="674"/><use href="#m" x="2198" y="674"/><use href="#m" x="2202" y="110"/><use href="#m" x="2206" y="191"/><use href="#m" x="2210" y="271"/><use href="#m" x="2214" y="513"/><use href="#m" x="2217" y="432"/><use href="#m" x="2221" y="352"/><use href="#m" x="2225" y="110"/><use href="#m" x="2229" y="754"/><use href="#m" x="2233" y="754"/><use href="#m" x="2237" y="754"/></g>
<text class="lb" x="133" y="99" text-anchor="middle">9</text>
<text class="lb" x="137" y="663" text-anchor="middle">2</text>
<text class="lb" x="141" y="743" text-anchor="middle">1</text>
<text class="lb" x="145" y="421" text-anchor="middle">5</text>
<text class="lb" x="149" y="99" text-anchor="middle">9</text>
<text class="lb" x="153" y="663" text-anchor="middle">2</text>
<text class="lb" x="156" y="582" text-anchor="middle">3</text>
<text class="lb" x="160" y="824" text-anchor="middle">0</text>
<text class="lb" x="164" y="502" text-anchor="middle">4</text>
<text class="lb" x="168" y="743" text-anchor="middle">1</text>
<text class="lb" x="172" y="341" text-anchor="middle">6</text>
<text class="lb" x="176" y="99" text-anchor="middle">9</text>
<text class="lb" x="180" y="341" text-anchor="middle">6</text>
<text class="lb" x="184" y="824" text-anchor="middle">0</text>
<text class="lb" x="188" y="824" text-anchor="middle">0</text>
<text class="lb" x="192" y="582" text-anchor="middle">3</text>
<text class="lb" x="196" y="341" text-anchor="middle">6</text>
<text class="lb" x="200" y="582" text-anchor="middle">3</text>
<text class="lb" x="203" y="582" text-anchor="middle">3</text>
<text class="lb" x="207" y="824" text-anchor="middle">0</text>
<text class="lb" x="211" y="582" text-anchor="middle">3</text>
<text class="lb" x="215" y="260" text-anchor="middle">7</text>
<text class="lb" x="219" y="743" text-anchor="middle">1</text>
<text class="lb" x="223" y="180" text-anchor="middle">8</text>
<text class="lb" x="227" y="582" text-anchor="middle">3</text>
<text class="lb" x="231" y="99" text-anchor="middle">9</text>
<text class="lb" x="235" y="743" text-anchor="middle">1</text>
<text class="lb" x="239" y="743" text-anchor="middle">1</text>
<text class="lb" x="243" y="99" text-anchor="middle">9</text>
<text class="lb" x="246" y="502" text-anchor="middle">4</text>
<text class="lb" x="250" y="341" text-anchor="middle">6</text>
<text class="lb" x="254" y="180" text-anchor="middle">8</text>
<text class="lb" x="258" y="180" text-anchor="middle">8</text>
<text class="lb" x="262" y="260" text-anchor="middle">7</text>
<text class="lb" x="266" y="582" text-anchor="middle">3</text>
<text class="lb" x="270" y="180" text-anchor="middle">8</text>
<text class="lb" x="274" y="663" text-anchor="middle">2</text>
<text class="lb" x="278" y="824" text-anchor="middle">0</text>
<text class="lb" x="282" y="743" text-anchor="middle">1</text>
<text class="lb" x="286" y="421" text-anchor="middle">5</text>
<text class="lb" x="290" y="260" text-anchor="middle">7</text>
<text class="lb" x="293" y="341" text-anchor="middle">6</text>
<text class="lb" x="297" y="582" text-anchor="middle">3</text>
<text class="lb" x="301" y="99" text-anchor="middle">9</text>
<text class="lb" x="305" y="341" text-anchor="middle">6</text>
<text class="lb" x="309" y="582" text-anchor="middle">3</text>
<text class="lb" x="313" y="502" text-anchor="middle">4</text>
<text class="lb" x="317" y="421" text-anchor="middle">5</text>
<text class="lb" x="321" y="502" text-anchor="middle">4</text>
<text class="lb" x="325" y="502" text-anchor="middle">4</text>
<text class="lb" x="329" y="582" text-anchor="middle">3</text>
<text class="lb" x="333" y="260" text-anchor="middle">7</text>
<text class="lb" x="336" y="663" text-anchor="middle">2</text>
<text class="lb" x="340" y="582" text-anchor="middle">3</text>
<text class="lb" x="344" y="260" text-anchor="middle">7</text>
<text class="lb" x="348" y="99" text-anchor="middle">9</text>
<text class="lb" x="352" y="341" text-anchor="middle">6</text>
<text class="lb" x="356" y="663" text-anchor="middle">2</text>
<text class="lb" x="360" y="743" text-anchor="middle">1</text>
<text class="lb" x="364" y="99" text-anchor="middle">9</text>
<text class="lb" x="368" y="341" text-anchor="middle">6</text>
<text class="lb" x="372" y="260" text-anchor="middle">7</text>
<text class="lb" x="376" y="260" text-anchor="middle">7</text>
<text class="lb" x="379" y="582" text-anchor="middle">3</text>
<text class="lb" x="383" y="180" text-anchor="middle">8</text>
<text class="lb" x="387" y="663" text-anchor="middle">2</text>
<text class="lb" x="391" y="421" text-anchor="middle">5</text>
<text class="lb" x="395" y="502" text-anchor="middle">4</text>
<text class="lb" x="399" y="341" text-anchor="middle">6</text>
<text class="lb" x="403" y="99" text-anchor="middle">9</text>
<text class="lb" x="407" y="421" text-anchor="middle">5</text>
<text class="lb" x="411" y="824" text-anchor="middle">0</text>
<text class="lb" x="415" y="180" text-anchor="middle">8</text>
<text class="lb" x="419" y="180" text-anchor="middle">8</text>
<text class="lb" x="423" y="582" text-anchor="middle">3</text>
<text class="lb" x="426" y="502" text-anchor="middle">4</text>
<text class="lb" x="430" y="824" text-anchor="middle">0</text>
<text class="lb" x="434" y="582" text-anchor="middle">3</text>
<text class="lb" x="438" y="99" text-anchor="middle">9</text>
<text class="lb" x="442" y="260" text-anchor="middle">7</text>
<text class="lb" x="446" y="180" text-anchor="middle">8</text>
<text class="lb" x="450" y="341" text-anchor="middle">6</text>
<text class="lb" x="454" y="663" text-anchor="middle">2</text>
<text class="lb" x="458" y="260" text-anchor="middle">7</text>
<text class="lb" x="462" y="421" text-anchor="middle">5</text>
<text class="lb" x="466" y="99" text-anchor="middle">9</text>
<text class="lb" x="469" y="743" text-anchor="middle">1</text>
<text class="lb" x="473" y="421" text-anchor="middle">5</text>
<text class="lb" x="477" y="502" text-anchor="middle">4</text>
<text class="lb" x="481" y="421" text-anchor="middle">5</text>
<text class="lb" x="485" y="341" text-anchor="middle">6</text>
<text class="lb" x="489" y="341" text-anchor="middle">6</text>
<text class="lb" x="493" y="663" text-anchor="middle">2</text>
<text class="lb" x="497" y="663" text-anchor="middle">2</text>
<text class="lb" x="501" y="180" text-anchor="middle">8</text>
<text class="lb" x="505" y="502" text-anchor="middle">4</text>
<text class="lb" x="509" y="180" text-anchor="middle">8</text>
<text class="lb" x="513" y="663" text-anchor="middle">2</text>
<text class="lb" x="516" y="824" text-anchor="middle">0</text>
<text class="lb" x="520" y="824" text-anchor="middle">0</text>
<text class="lb" x="524" y="99" text-anchor="middle">9</text>
<text class="lb" x="528" y="743" text-anchor="middle">1</text>
<text class="lb" x="532" y="502" text-anchor="middle">4</text>
<text class="lb" x="536" y="260" text-anchor="middle">7</text>
<text class="lb" x="540" y="421" text-anchor="middle">5</text>
<text class="lb" x="544" y="180" text-anchor="middle">8</text>
<text class="lb" x="548" y="582" text-anchor="middle">3</text>
<text class="lb" x="552" y="502" text-anchor="middle">4</text>
<text class="lb" x="556" y="582" text-anchor="middle">3</text>
<text class="lb" x="559" y="743" text-anchor="middle">1</text>
<text class="lb" x="563" y="260" text-anchor="middle">7</text>
<text class="lb" x="567" y="743" text-anchor="middle">1</text>
<text class="lb" x="571" y="582" text-anchor="middle">3</text>
<text class="lb" x="575" y="260" text-anchor="middle">7</text>
<text class="lb" x="579" y="421" text-anchor="middle">5</text>
<text class="lb" x="583" y="663" text-anchor="middle">2</text>
<text class="lb" x="587" y="421" text-anchor="middle">5</text>
<text class="lb" x="591" y="99" text-anchor="middle">9</text>
<text class="lb" x="595" y="341" text-anchor="middle">6</text>
<text class="lb" x="599" y="180" text-anchor="middle">8</text>
<text class="lb" x="603" y="260" text-anchor="middle">7</text>
<text class="lb" x="606" y="824" text-anchor="middle">0</text>
<text class="lb" x="610" y="582" text-anchor="middle">3</text>
<text class="lb" x="614" y="421" text-anchor="middle">5</text>
<text class="lb" x="618" y="99" text-anchor="middle">9</text>
<text class="lb" x="622" y="421" text-anchor="middle">5</text>
<text class="lb" x="626" y="421" text-anchor="middle">5</text>
<text class="lb" x="630" y="421" text-anchor="middle">5</text>
<text class="lb" x="634" y="99" text-anchor="middle">9</text>
<text class="lb" x="638" y="582" text-anchor="middle">3</text>
<text class="lb" x="642" y="663" text-anchor="middle">2</text>
<text class="lb" x="646" y="180" text-anchor="middle">8</text>
<text class="lb" x="649" y="260" text-anchor="middle">7</text>
<text class="lb" x="653" y="260" text-anchor="middle">7</text>
<text class="lb" x="657" y="260" text-anchor="middle">7</text>
<text class="lb" x="661" y="582" text-anchor="middle">3</text>
<text class="lb" x="665" y="341" text-anchor="middle">6</text>
<text class="lb" x="669" y="502" text-anchor="middle">4</text>
<text class="lb" x="673" y="341" text-anchor="middle">6</text>
<text class="lb" x="677" y="99" text-anchor="middle">9</text>
<text class="lb" x="681" y="99" text-anchor="middle">9</text>
<text class="lb" x="685" y="663" text-anchor="middle">2</text>
<text class="lb" x="689" y="743" text-anchor="middle">1</text>
<text class="lb" x="693" y="260" text-anchor="middle">7</text>
<text class="lb" x="696" y="260" text-anchor="middle">7</text>
<text class="lb" x="700" y="824" text-anchor="middle">0</text>
<text class="lb" x="704" y="341" text-anchor="middle">6</text>
<text class="lb" x="708" y="582" text-anchor="middle">3</text>
<text class="lb" x="712" y="663" text-anchor="middle">2</text>
<text class="lb" x="716" y="260" text-anchor="middle">7</text>
<text class="lb" x="720" y="341" text-anchor="middle">6</text>
<text class="lb" x="724" y="743" text-anchor="middle">1</text>
<text class="lb" x="728" y="99" text-anchor="middle">9</text>
<text class="lb" x="732" y="180" text-anchor="middle">8</text>
<text class="lb" x="736" y="421" text-anchor="middle">5</text>
<text class="lb" x="739" y="663" text-anchor="middle">2</text>
<text class="lb" x="743" y="502" text-anchor="middle">4</text>
<text class="lb" x="747" y="180" text-anchor="middle">8</text>
<text class="lb" x="751" y="663" text-anchor="middle">2</text>
<text class="lb" x="755" y="582" text-anchor="middle">3</text>
<text class="lb" x="759" y="421" text-anchor="middle">5</text>
<text class="lb" x="763" y="341" text-anchor="middle">6</text>
<text class="lb" x="767" y="663" text-anchor="middle">2</text>
<text class="lb" x="771" y="99" text-anchor="middle">9</text>
<text class="lb" x="775" y="341" text-anchor="middle">6</text>
<text class="lb" x="779" y="743" text-anchor="middle">1</text>
<text class="lb" x="782" y="180" text-anchor="middle">8</text>
<text class="lb" x="786" y="824" text-anchor="middle">0</text>
<text class="lb" x="790" y="99" text-anchor="middle">9</text>
<text class="lb" x="794" y="421" text-anchor="middle">5</text>
<text class="lb" x="798" y="663" text-anchor="middle">2</text>
<text class="lb" x="802" y="421" text-anchor="middle">5</text>
<text class="lb" x="806" y="502" text-anchor="middle">4</text>
<text class="lb" x="810" y="663" text-anchor="middle">2</text>
<text class="lb" x="814" y="743" text-anchor="middle">1</text>
<text class="lb" x="818" y="180" text-anchor="middle">8</text>
<text class="lb" x="822" y="743" text-anchor="middle">1</text>
<text class="lb" x="826" y="663" text-anchor="middle">2</text>
<text class="lb" x="829" y="743" text-anchor="middle">1</text>
<text class="lb" x="833" y="743" text-anchor="middle">1</text>
<text class="lb" x="837" y="99" text-anchor="middle">9</text>
<text class="lb" x="841" y="663" text-anchor="middle">2</text>
<text class="lb" x="845" y="743" text-anchor="middle">1</text>
<text class="lb" x="849" y="502" text-anchor="middle">4</text>
<text class="lb" x="853" y="180" text-anchor="middle">8</text>
<text class="lb" x="857" y="663" text-anchor="middle">2</text>
<text class="lb" x="861" y="743" text-anchor="middle">1</text>
<text class="lb" x="865" y="743" text-anchor="middle">1</text>
<text class="lb" x="869" y="824" text-anchor="middle">0</text>
<text class="lb" x="872" y="663" text-anchor="middle">2</text>
<text class="lb" x="876" y="421" text-anchor="middle">5</text>
<text class="lb" x="880" y="502" text-anchor="middle">4</text>
<text class="lb" x="884" y="663" text-anchor="middle">2</text>
<text class="lb" x="888" y="421" text-anchor="middle">5</text>
<text class="lb" x="892" y="502" text-anchor="middle">4</text>
<text class="lb" x="896" y="663" text-anchor="middle">2</text>
<text class="lb" x="900" y="663" text-anchor="middle">2</text>
<text class="lb" x="904" y="341" text-anchor="middle">6</text>
<text class="lb" x="908" y="582" text-anchor="middle">3</text>
<text class="lb" x="912" y="663" text-anchor="middle">2</text>
<text class="lb" x="916" y="582" text-anchor="middle">3</text>
<text class="lb" x="919" y="421" text-anchor="middle">5</text>
<text class="lb" x="923" y="341" text-anchor="middle">6</text>
<text class="lb" x="927" y="582" text-anchor="middle">3</text>
<text class="lb" x="931" y="743" text-anchor="middle">1</text>
<text class="lb" x="935" y="260" text-anchor="middle">7</text>
<text class="lb" x="939" y="663" text-anchor="middle">2</text>
<text class="lb" x="943" y="421" text-anchor="middle">5</text>
<text class="lb" x="947" y="421" text-anchor="middle">5</text>
<text class="lb" x="951" y="663" text-anchor="middle">2</text>
<text class="lb" x="955" y="421" text-anchor="middle">5</text>
<text class="lb" x="959" y="180" text-anchor="middle">8</text>
<text class="lb" x="962" y="260" text-anchor="middle">7</text>
<text class="lb" x="966" y="582" text-anchor="middle">3</text>
<text class="lb" x="970" y="260" text-anchor="middle">7</text>
<text class="lb" x="974" y="824" text-anchor="middle">0</text>
<text class="lb" x="978" y="663" text-anchor="middle">2</text>
<text class="lb" x="982" y="743" text-anchor="middle">1</text>
<text class="lb" x="986" y="421" text-anchor="middle">5</text>
<text class="lb" x="990" y="341" text-anchor="middle">6</text>
<text class="lb" x="994" y="663" text-anchor="middle">2</text>
<text class="lb" x="998" y="341" text-anchor="middle">6</text>
<text class="lb" x="1002" y="180" text-anchor="middle">8</text>
<text class="lb" x="1006" y="824" text-anchor="middle">0</text>
<text class="lb" x="1009" y="743" text-anchor="middle">1</text>
<text class="lb" x="1013" y="99" text-anchor="middle">9</text>
<text class="lb" x="1017" y="421" text-anchor="middle">5</text>
<text class="lb" x="1021" y="421" text-anchor="middle">5</text>
<text class="lb" x="1025" y="180" text-anchor="middle">8</text>
<text class="lb" x="1029" y="502" text-anchor="middle">4</text>
<text class="lb" x="1033" y="743" text-anchor="middle">1</text>
<text class="lb" x="1037" y="743" text-anchor="middle">1</text>
<text class="lb" x="1041" y="663" text-anchor="middle">2</text>
<text class="lb" x="1045" y="99" text-anchor="middle">9</text>
<text class="lb" x="1049" y="421" text-anchor="middle">5</text>
<text class="lb" x="1052" y="582" text-anchor="middle">3</text>
<text class="lb" x="1056" y="341" text-anchor="middle">6</text>
<text class="lb" x="1060" y="743" text-anchor="middle">1</text>
<text class="lb" x="1064" y="99" text-anchor="middle">9</text>
<text class="lb" x="1068" y="99" text-anchor="middle">9</text>
<text class="lb" x="1072" y="582" text-anchor="middle">3</text>
<text class="lb" x="1076" y="99" text-anchor="middle">9</text>
<text class="lb" x="1080" y="180" text-anchor="middle">8</text>
<text class="lb" x="1084" y="743" text-anchor="middle">1</text>
<text class="lb" x="1088" y="663" text-anchor="middle">2</text>
<text class="lb" x="1092" y="341" text-anchor="middle">6</text>
<text class="lb" x="1096" y="502" text-anchor="middle">4</text>
<text class="lb" x="1099" y="502" text-anchor="middle">4</text>
<text class="lb" x="1103" y="341" text-anchor="middle">6</text>
<text class="lb" x="1107" y="582" text-anchor="middle">3</text>
<text class="lb" x="1111" y="421" text-anchor="middle">5</text>
<text class="lb" x="1115" y="824" text-anchor="middle">0</text>
<text class="lb" x="1119" y="99" text-anchor="middle">9</text>
<text class="lb" x="1123" y="502" text-anchor="middle">4</text>
<text class="lb" x="1127" y="421" text-anchor="middle">5</text>
<text class="lb" x="1131" y="421" text-anchor="middle">5</text>
<text class="lb" x="1135" y="260" text-anchor="middle">7</text>
<text class="lb" x="1139" y="824" text-anchor="middle">0</text>
<text class="lb" x="1142" y="824" text-anchor="middle">0</text>
<text class="lb" x="1146" y="502" text-anchor="middle">4</text>
<text class="lb" x="1150" y="341" text-anchor="middle">6</text>
<text class="lb" x="1154" y="743" text-anchor="middle">1</text>
<text class="lb" x="1158" y="743" text-anchor="middle">1</text>
<text class="lb" x="1162" y="99" text-anchor="middle">9</text>
<text class="lb" x="1166" y="421" text-anchor="middle">5</text>
<text class="lb" x="1170" y="341" text-anchor="middle">6</text>
<text class="lb" x="1174" y="421" text-anchor="middle">5</text>
<text class="lb" x="1178" y="663" text-anchor="middle">2</text>
<text class="lb" x="1182" y="582" text-anchor="middle">3</text>
<text class="lb" x="1185" y="663" text-anchor="middle">2</text>
<text class="lb" x="1189" y="421" text-anchor="middle">5</text>
<text class="lb" x="1193" y="260" text-anchor="middle">7</text>
<text class="lb" x="1197" y="180" text-anchor="middle">8</text>
<text class="lb" x="1201" y="582" text-anchor="middle">3</text>
<text class="lb" x="1205" y="180" text-anchor="middle">8</text>
<text class="lb" x="1209" y="824" text-anchor="middle">0</text>
<text class="lb" x="1213" y="260" text-anchor="middle">7</text>
<text class="lb" x="1217" y="341" text-anchor="middle">6</text>
<text class="lb" x="1221" y="502" text-anchor="middle">4</text>
<text class="lb" x="1225" y="582" text-anchor="middle">3</text>
<text class="lb" x="1229" y="824" text-anchor="middle">0</text>
<text class="lb" x="1232" y="824" text-anchor="middle">0</text>
<text class="lb" x="1236" y="421" text-anchor="middle">5</text>
<text class="lb" x="1240" y="421" text-anchor="middle">5</text>
<text class="lb" x="1244" y="743" text-anchor="middle">1</text>
<text class="lb" x="1248" y="421" text-anchor="middle">5</text>
<text class="lb" x="1252" y="421" text-anchor="middle">5</text>
<text class="lb" x="1256" y="582" text-anchor="middle">3</text>
<text class="lb" x="1260" y="421" text-anchor="middle">5</text>
<text class="lb" x="1264" y="743" text-anchor="middle">1</text>
<text class="lb" x="1268" y="421" text-anchor="middle">5</text>
<text class="lb" x="1272" y="824" text-anchor="middle">0</text>
<text class="lb" x="1275" y="663" text-anchor="middle">2</text>
<text class="lb" x="1279" y="502" text-anchor="middle">4</text>
<text class="lb" x="1283" y="99" text-anchor="middle">9</text>
<text class="lb" x="1287" y="99" text-anchor="middle">9</text>
<text class="lb" x="1291" y="421" text-anchor="middle">5</text>
<text class="lb" x="1295" y="663" text-anchor="middle">2</text>
<text class="lb" x="1299" y="341" text-anchor="middle">6</text>
<text class="lb" x="1303" y="260" text-anchor="middle">7</text>
<text class="lb" x="1307" y="260" text-anchor="middle">7</text>
<text class="lb" x="1311" y="743" text-anchor="middle">1</text>
<text class="lb" x="1315" y="180" text-anchor="middle">8</text>
<text class="lb" x="1319" y="180" text-anchor="middle">8</text>
<text class="lb" x="1322" y="743" text-anchor="middle">1</text>
<text class="lb" x="1326" y="663" text-anchor="middle">2</text>
<text class="lb" x="1330" y="99" text-anchor="middle">9</text>
<text class="lb" x="1334" y="260" text-anchor="middle">7</text>
<text class="lb" x="1338" y="421" text-anchor="middle">5</text>
<text class="lb" x="1342" y="99" text-anchor="middle">9</text>
<text class="lb" x="1346" y="421" text-anchor="middle">5</text>
<text class="lb" x="1350" y="180" text-anchor="middle">8</text>
<text class="lb" x="1354" y="260" text-anchor="middle">7</text>
<text class="lb" x="1358" y="663" text-anchor="middle">2</text>
<text class="lb" x="1362" y="99" text-anchor="middle">9</text>
<text class="lb" x="1365" y="663" text-anchor="middle">2</text>
<text class="lb" x="1369" y="99" text-anchor="middle">9</text>
<text class="lb" x="1373" y="824" text-anchor="middle">0</text>
<text class="lb" x="1377" y="341" text-anchor="middle">6</text>
<text class="lb" x="1381" y="663" text-anchor="middle">2</text>
<text class="lb" x="1385" y="502" text-anchor="middle">4</text>
<text class="lb" x="1389" y="663" text-anchor="middle">2</text>
<text class="lb" x="1393" y="99" text-anchor="middle">9</text>
<text class="lb" x="1397" y="582" text-anchor="middle">3</text>
<text class="lb" x="1401" y="582" text-anchor="middle">3</text>
<text class="lb" x="1405" y="502" text-anchor="middle">4</text>
<text class="lb" x="1409" y="743" text-anchor="middle">1</text>
<text class="lb" x="1412" y="180" text-anchor="middle">8</text>
<text class="lb" x="1416" y="824" text-anchor="middle">0</text>
<text class="lb" x="1420" y="743" text-anchor="middle">1</text>
<text class="lb" x="1424" y="99" text-anchor="middle">9</text>
<text class="lb" x="1428" y="582" text-anchor="middle">3</text>
<text class="lb" x="1432" y="743" text-anchor="middle">1</text>
<text class="lb" x="1436" y="180" text-anchor="middle">8</text>
<text class="lb" x="1440" y="502" text-anchor="middle">4</text>
<text class="lb" x="1444" y="99" text-anchor="middle">9</text>
<text class="lb" x="1448" y="743" text-anchor="middle">1</text>
<text class="lb" x="1452" y="341" text-anchor="middle">6</text>
<text class="lb" x="1455" y="582" text-anchor="middle">3</text>
<text class="lb" x="1459" y="260" text-anchor="middle">7</text>
<text class="lb" x="1463" y="743" text-anchor="middle">1</text>
<text class="lb" x="1467" y="502" text-anchor="middle">4</text>
<text class="lb" x="1471" y="743" text-anchor="middle">1</text>
<text class="lb" x="1475" y="421" text-anchor="middle">5</text>
<text class="lb" x="1479" y="824" text-anchor="middle">0</text>
<text class="lb" x="1483" y="341" text-anchor="middle">6</text>
<text class="lb" x="1487" y="502" text-anchor="middle">4</text>
<text class="lb" x="1491" y="421" text-anchor="middle">5</text>
<text class="lb" x="1495" y="743" text-anchor="middle">1</text>
<text class="lb" x="1499" y="663" text-anchor="middle">2</text>
<text class="lb" x="1502" y="502" text-anchor="middle">4</text>
<text class="lb" x="1506" y="582" text-anchor="middle">3</text>
<text class="lb" x="1510" y="260" text-anchor="middle">7</text>
<text class="lb" x="1514" y="743" text-anchor="middle">1</text>
<text class="lb" x="1518" y="180" text-anchor="middle">8</text>
<text class="lb" x="1522" y="180" text-anchor="middle">8</text>
<text class="lb" x="1526" y="582" text-anchor="middle">3</text>
<text class="lb" x="1530" y="180" text-anchor="middle">8</text>
<text class="lb" x="1534" y="582" text-anchor="middle">3</text>
<text class="lb" x="1538" y="502" text-anchor="middle">4</text>
<text class="lb" x="1542" y="180" text-anchor="middle">8</text>
<text class="lb" x="1545" y="663" text-anchor="middle">2</text>
<text class="lb" x="1549" y="341" text-anchor="middle">6</text>
<text class="lb" x="1553" y="824" text-anchor="middle">0</text>
<text class="lb" x="1557" y="341" text-anchor="middle">6</text>
<text class="lb" x="1561" y="743" text-anchor="middle">1</text>
<text class="lb" x="1565" y="180" text-anchor="middle">8</text>
<text class="lb" x="1569" y="180" text-anchor="middle">8</text>
<text class="lb" x="1573" y="502" text-anchor="middle">4</text>
<text class="lb" x="1577" y="99" text-anchor="middle">9</text>
<text class="lb" x="1581" y="663" text-anchor="middle">2</text>
<text class="lb" x="1585" y="824" text-anchor="middle">0</text>
<text class="lb" x="1589" y="582" text-anchor="middle">3</text>
<text class="lb" x="1592" y="743" text-anchor="middle">1</text>
<text class="lb" x="1596" y="99" text-anchor="middle">9</text>
<text class="lb" x="1600" y="180" text-anchor="middle">8</text>
<text class="lb" x="1604" y="824" text-anchor="middle">0</text>
<text class="lb" x="1608" y="824" text-anchor="middle">0</text>
<text class="lb" x="1612" y="582" text-anchor="middle">3</text>
<text class="lb" x="1616" y="824" text-anchor="middle">0</text>
<text class="lb" x="1620" y="824" text-anchor="middle">0</text>
<text class="lb" x="1624" y="260" text-anchor="middle">7</text>
<text class="lb" x="1628" y="421" text-anchor="middle">5</text>
<text class="lb" x="1632" y="180" text-anchor="middle">8</text>
<text class="lb" x="1635" y="824" text-anchor="middle">0</text>
<text class="lb" x="1639" y="341" text-anchor="middle">6</text>
<text class="lb" x="1643" y="421" text-anchor="middle">5</text>
<text class="lb" x="1647" y="99" text-anchor="middle">9</text>
<text class="lb" x="1651" y="180" text-anchor="middle">8</text>
<text class="lb" x="1655" y="582" text-anchor="middle">3</text>
<text class="lb" x="1659" y="663" text-anchor="middle">2</text>
<text class="lb" x="1663" y="502" text-anchor="middle">4</text>
<text class="lb" x="1667" y="180" text-anchor="middle">8</text>
<text class="lb" x="1671" y="421" text-anchor="middle">5</text>
<text class="lb" x="1675" y="421" text-anchor="middle">5</text>
<text class="lb" x="1678" y="180" text-anchor="middle">8</text>
<text class="lb" x="1682" y="502" text-anchor="middle">4</text>
<text class="lb" x="1686" y="260" text-anchor="middle">7</text>
<text class="lb" x="1690" y="421" text-anchor="middle">5</text>
<text class="lb" x="1694" y="502" text-anchor="middle">4</text>
<text class="lb" x="1698" y="502" text-anchor="middle">4</text>
<text class="lb" x="1702" y="824" text-anchor="middle">0</text>
<text class="lb" x="1706" y="824" text-anchor="middle">0</text>
<text class="lb" x="1710" y="582" text-anchor="middle">3</text>
<text class="lb" x="1714" y="582" text-anchor="middle">3</text>
<text class="lb" x="1718" y="663" text-anchor="middle">2</text>
<text class="lb" x="1722" y="260" text-anchor="middle">7</text>
<text class="lb" x="1725" y="180" text-anchor="middle">8</text>
<text class="lb" x="1729" y="824" text-anchor="middle">0</text>
<text class="lb" x="1733" y="341" text-anchor="middle">6</text>
<text class="lb" x="1737" y="99" text-anchor="middle">9</text>
<text class="lb" x="1741" y="341" text-anchor="middle">6</text>
<text class="lb" x="1745" y="824" text-anchor="middle">0</text>
<text class="lb" x="1749" y="663" text-anchor="middle">2</text>
<text class="lb" x="1753" y="743" text-anchor="middle">1</text>
<text class="lb" x="1757" y="743" text-anchor="middle">1</text>
<text class="lb" x="1761" y="743" text-anchor="middle">1</text>
<text class="lb" x="1765" y="180" text-anchor="middle">8</text>
<text class="lb" x="1768" y="260" text-anchor="middle">7</text>
<text class="lb" x="1772" y="341" text-anchor="middle">6</text>
<text class="lb" x="1776" y="180" text-anchor="middle">8</text>
<text class="lb" x="1780" y="260" text-anchor="middle">7</text>
<text class="lb" x="1784" y="502" text-anchor="middle">4</text>
<text class="lb" x="1788" y="663" text-anchor="middle">2</text>
<text class="lb" x="1792" y="743" text-anchor="middle">1</text>
<text class="lb" x="1796" y="743" text-anchor="middle">1</text>
<text class="lb" x="1800" y="99" text-anchor="middle">9</text>
<text class="lb" x="1804" y="824" text-anchor="middle">0</text>
<text class="lb" x="1808" y="341" text-anchor="middle">6</text>
<text class="lb" x="1812" y="824" text-anchor="middle">0</text>
<text class="lb" x="1815" y="502" text-anchor="middle">4</text>
<text class="lb" x="1819" y="421" text-anchor="middle">5</text>
<text class="lb" x="1823" y="341" text-anchor="middle">6</text>
<text class="lb" x="1827" y="341" text-anchor="middle">6</text>
<text class="lb" x="1831" y="180" text-anchor="middle">8</text>
<text class="lb" x="1835" y="743" text-anchor="middle">1</text>
<text class="lb" x="1839" y="99" text-anchor="middle">9</text>
<text class="lb" x="1843" y="663" text-anchor="middle">2</text>
<text class="lb" x="1847" y="260" text-anchor="middle">7</text>
<text class="lb" x="1851" y="341" text-anchor="middle">6</text>
<text class="lb" x="1855" y="743" text-anchor="middle">1</text>
<text class="lb" x="1858" y="99" text-anchor="middle">9</text>
<text class="lb" x="1862" y="743" text-anchor="middle">1</text>
<text class="lb" x="1866" y="582" text-anchor="middle">3</text>
<text class="lb" x="1870" y="341" text-anchor="middle">6</text>
<text class="lb" x="1874" y="341" text-anchor="middle">6</text>
<text class="lb" x="1878" y="582" text-anchor="middle">3</text>
<text class="lb" x="1882" y="743" text-anchor="middle">1</text>
<text class="lb" x="1886" y="180" text-anchor="middle">8</text>
<text class="lb" x="1890" y="743" text-anchor="middle">1</text>
<text class="lb" x="1894" y="824" text-anchor="middle">0</text>
<text class="lb" x="1898" y="502" text-anchor="middle">4</text>
<text class="lb" x="1902" y="99" text-anchor="middle">9</text>
<text class="lb" x="1905" y="421" text-anchor="middle">5</text>
<text class="lb" x="1909" y="582" text-anchor="middle">3</text>
<text class="lb" x="1913" y="99" text-anchor="middle">9</text>
<text class="lb" x="1917" y="99" text-anchor="middle">9</text>
<text class="lb" x="1921" y="663" text-anchor="middle">2</text>
<text class="lb" x="1925" y="260" text-anchor="middle">7</text>
<text class="lb" x="1929" y="743" text-anchor="middle">1</text>
<text class="lb" x="1933" y="582" text-anchor="middle">3</text>
<text class="lb" x="1937" y="502" text-anchor="middle">4</text>
<text class="lb" x="1941" y="260" text-anchor="middle">7</text>
<text class="lb" x="1945" y="663" text-anchor="middle">2</text>
<text class="lb" x="1948" y="341" text-anchor="middle">6</text>
<text class="lb" x="1952" y="582" text-anchor="middle">3</text>
<text class="lb" x="1956" y="824" text-anchor="middle">0</text>
<text class="lb" x="1960" y="180" text-anchor="middle">8</text>
<text class="lb" x="1964" y="502" text-anchor="middle">4</text>
<text class="lb" x="1968" y="663" text-anchor="middle">2</text>
<text class="lb" x="1972" y="421" text-anchor="middle">5</text>
<text class="lb" x="1976" y="582" text-anchor="middle">3</text>
<text class="lb" x="1980" y="99" text-anchor="middle">9</text>
<text class="lb" x="1984" y="582" text-anchor="middle">3</text>
<text class="lb" x="1988" y="180" text-anchor="middle">8</text>
<text class="lb" x="1992" y="421" text-anchor="middle">5</text>
<text class="lb" x="1995" y="421" text-anchor="middle">5</text>
<text class="lb" x="1999" y="582" text-anchor="middle">3</text>
<text class="lb" x="2003" y="421" text-anchor="middle">5</text>
<text class="lb" x="2007" y="180" text-anchor="middle">8</text>
<text class="lb" x="2011" y="99" text-anchor="middle">9</text>
<text class="lb" x="2015" y="341" text-anchor="middle">6</text>
<text class="lb" x="2019" y="421" text-anchor="middle">5</text>
<text class="lb" x="2023" y="180" text-anchor="middle">8</text>
<text class="lb" x="2027" y="260" text-anchor="middle">7</text>
<text class="lb" x="2031" y="582" text-anchor="middle">3</text>
<text class="lb" x="2035" y="180" text-anchor="middle">8</text>
<text class="lb" x="2038" y="421" text-anchor="middle">5</text>
<text class="lb" x="2042" y="824" text-anchor="middle">0</text>
<text class="lb" x="2046" y="421" text-anchor="middle">5</text>
<text class="lb" x="2050" y="99" text-anchor="middle">9</text>
<text class="lb" x="2054" y="582" text-anchor="middle">3</text>
<text class="lb" x="2058" y="180" text-anchor="middle">8</text>
<text class="lb" x="2062" y="582" text-anchor="middle">3</text>
<text class="lb" x="2066" y="99" text-anchor="middle">9</text>
<text class="lb" x="2070" y="260" text-anchor="middle">7</text>
<text class="lb" x="2074" y="260" text-anchor="middle">7</text>
<text class="lb" x="2078" y="341" text-anchor="middle">6</text>
<text class="lb" x="2081" y="260" text-anchor="middle">7</text>
<text class="lb" x="2085" y="260" text-anchor="middle">7</text>
<text class="lb" x="2089" y="502" text-anchor="middle">4</text>
<text class="lb" x="2093" y="663" text-anchor="middle">2</text>
<text class="lb" x="2097" y="502" text-anchor="middle">4</text>
<text class="lb" x="2101" y="341" text-anchor="middle">6</text>
<text class="lb" x="2105" y="99" text-anchor="middle">9</text>
<text class="lb" x="2109" y="743" text-anchor="middle">1</text>
<text class="lb" x="2113" y="341" text-anchor="middle">6</text>
<text class="lb" x="2117" y="99" text-anchor="middle">9</text>
<text class="lb" x="2121" y="99" text-anchor="middle">9</text>
<text class="lb" x="2125" y="260" text-anchor="middle">7</text>
<text class="lb" x="2128" y="502" text-anchor="middle">4</text>
<text class="lb" x="2132" y="99" text-anchor="middle">9</text>
<text class="lb" x="2136" y="743" text-anchor="middle">1</text>
<text class="lb" x="2140" y="743" text-anchor="middle">1</text>
<text class="lb" x="2144" y="260" text-anchor="middle">7</text>
<text class="lb" x="2148" y="502" text-anchor="middle">4</text>
<text class="lb" x="2152" y="502" text-anchor="middle">4</text>
<text class="lb" x="2156" y="743" text-anchor="middle">1</text>
<text class="lb" x="2160" y="663" text-anchor="middle">2</text>
<text class="lb" x="2164" y="260" text-anchor="middle">7</text>
<text class="lb" x="2168" y="260" text-anchor="middle">7</text>
<text class="lb" x="2171" y="582" text-anchor="middle">3</text>
<text class="lb" x="2175" y="421" text-anchor="middle">5</text>
<text class="lb" x="2179" y="582" text-anchor="middle">3</text>
<text class="lb" x="2183" y="582" text-anchor="middle">3</text>
<text class="lb" x="2187" y="341" text-anchor="middle">6</text>
<text class="lb" x="2191" y="180" text-anchor="middle">8</text>
<text class="lb" x="2195" y="663" text-anchor="middle">2</text>
<text class="lb" x="2199" y="663" text-anchor="middle">2</text>
<text class="lb" x="2203" y="99" text-anchor="middle">9</text>
<text class="lb" x="2207" y="180" text-anchor="middle">8</text>
<text class="lb" x="2211" y="260" text-anchor="middle">7</text>
<text class="lb" x="2215" y="502" text-anchor="middle">4</text>
<text class="lb" x="2218" y="421" text-anchor="middle">5</text>
<text class="lb" x="2222" y="341" text-anchor="middle">6</text>
<text class="lb" x="2226" y="99" text-anchor="middle">9</text>
<text class="lb" x="2230" y="743" text-anchor="middle">1</text>
<text class="lb" x="2234" y="743" text-anchor="middle">1</text>
<text class="lb" x="2238" y="743" text-anchor="middle">1</text>
<rect x="85.5" y="61.5" width="2199" height="818" fill="none" stroke="#000" stroke-width="1" shape-rendering="crispEdges"/>
<text class="cn" y="78" fill="#0000ff"><tspan x="93.5 106.5 119.5" font-size="12">排列三</tspan><tspan x="132.6 139.6 146.6 153.6 160.6 167.6 174.6" y="78" font-size="11" font-family="Liberation Sans,sans-serif" font-weight="bold">2025100</tspan><tspan x="181.5" font-size="12">期</tspan><tspan x="194.6 201.6 208.6 215.6 222.6" y="78" font-size="11" font-family="Liberation Sans,sans-serif" font-weight="bold"> 2025</tspan><tspan x="228.8" y="79.6" font-size="22" font-family="Liberation Sans,sans-serif" font-weight="normal">-</tspan><tspan x="236.6 243.6" y="78" font-size="11" font-family="Liberation Sans,sans-serif" font-weight="bold">04</tspan><tspan x="249.8" y="79.6" font-size="22" font-family="Liberation Sans,sans-serif" font-weight="normal">-</tspan><tspan x="257.6 264.6" y="78" font-size="11" font-family="Liberation Sans,sans-serif" font-weight="bold">20</tspan></text>
<text class="cn" y="870" fill="#0000ff"><tspan x="96.5 109.5 122.5 135.5 148.5 161.5 174.5 187.5 200.5 213.5 226.5 239.5 252.5 265.5 278.5 291.5 304.5 317.5 330.5 343.5 356.5 369.5 382.5 395.5 408.5 421.5 434.5 447.5 460.5 473.5 486.5 499.5 512.5 525.5 538.5 551.5 564.5 577.5 590.5 603.5 616.5 629.5 642.5 655.5 668.5 681.5 694.5 707.5 720.5 733.5 746.5 759.5 772.5 785.5 798.5 811.5 824.5 837.5 850.5 863.5 876.5 889.5 902.5 915.5 928.5 941.5 954.5 967.5 980.5 993.5 1006.5 1019.5 1032.5 1045.5 1058.5 1071.5 1084.5 1097.5 1110.5" font-size="12">本平台发布的彩票走势图系基于公开的往期开奖数据，通过统计学方法形成的分析参考资料。内容仅为客观数据呈现，不构成任何形式的购彩建议或投资指引不承诺任何中奖效果！</tspan></text>
<text class="cn" y="870" fill="#ff0000"><tspan x="1123.5 1136.5 1149.5 1162.5" font-size="12">历史数据</tspan><tspan x="1176.5" font-size="17" font-family="Liberation Sans,sans-serif" font-weight="bold">≠</tspan><tspan x="1188.5 1201.5 1214.5 1227.5 1240.5 1253.5 1266.5 1279.5 1292.5 1305.5 1318.5 1331.5 1344.5 1357.5 1370.5" font-size="12">未来结果！个人观点，仅供参考！</tspan></text>
<defs><filter id="ash" x="-30%" y="-30%" width="160%" height="160%"><feGaussianBlur stdDeviation="2.2"/></filter><mask id="amask" maskUnits="userSpaceOnUse" x="0" y="0" width="2354" height="926"><rect x="0" y="0" width="2354" height="926" fill="#fff"/><polygon points="673.5,257.5 696.4,243.2 688.8,242.0 729.4,181.0 728.8,180.6 683.4,238.2 680.3,232.1" fill="#000" stroke="#000" stroke-width="3" stroke-linejoin="round"/><polygon points="641.7,422.7 665.2,409.5 657.7,407.9 698.3,352.0 697.7,351.6 652.5,403.8 649.6,397.7" fill="#000" stroke="#000" stroke-width="3" stroke-linejoin="round"/><polygon points="1774.8,738.4 1797.0,723.0 1789.3,722.2 1835.1,646.5 1834.5,646.1 1783.8,718.6 1780.3,712.7" fill="#000" stroke="#000" stroke-width="3" stroke-linejoin="round"/><polygon points="2245.5,740.1 2267.8,724.9 2260.1,724.0 2311.3,641.2 2310.7,640.8 2254.6,720.3 2251.2,714.5" fill="#000" stroke="#000" stroke-width="3" stroke-linejoin="round"/></mask></defs><g mask="url(#amask)"><g filter="url(#ash)" transform="translate(3,3)" opacity="0.55"><polygon points="673.5,257.5 696.4,243.2 688.8,242.0 729.4,181.0 728.8,180.6 683.4,238.2 680.3,232.1" fill="#000"/><polygon points="641.7,422.7 665.2,409.5 657.7,407.9 698.3,352.0 697.7,351.6 652.5,403.8 649.6,397.7" fill="#000"/><polygon points="1774.8,738.4 1797.0,723.0 1789.3,722.2 1835.1,646.5 1834.5,646.1 1783.8,718.6 1780.3,712.7" fill="#000"/><polygon points="2245.5,740.1 2267.8,724.9 2260.1,724.0 2311.3,641.2 2310.7,640.8 2254.6,720.3 2251.2,714.5" fill="#000"/></g></g><polygon points="673.5,257.5 696.4,243.2 688.8,242.0 729.4,181.0 728.8,180.6 683.4,238.2 680.3,232.1" fill="none" stroke="#fff" stroke-width="3" stroke-linejoin="round"/><polygon points="673.5,257.5 696.4,243.2 688.8,242.0 729.4,181.0 728.8,180.6 683.4,238.2 680.3,232.1" fill="#0000ff" fill-opacity="0.7"/><polygon points="641.7,422.7 665.2,409.5 657.7,407.9 698.3,352.0 697.7,351.6 652.5,403.8 649.6,397.7" fill="none" stroke="#fff" stroke-width="3" stroke-linejoin="round"/><polygon points="641.7,422.7 665.2,409.5 657.7,407.9 698.3,352.0 697.7,351.6 652.5,403.8 649.6,397.7" fill="#0000ff" fill-opacity="0.7"/><polygon points="1774.8,738.4 1797.0,723.0 1789.3,722.2 1835.1,646.5 1834.5,646.1 1783.8,718.6 1780.3,712.7" fill="none" stroke="#fff" stroke-width="3" stroke-linejoin="round"/><polygon points="1774.8,738.4 1797.0,723.0 1789.3,722.2 1835.1,646.5 1834.5,646.1 1783.8,718.6 1780.3,712.7" fill="#0000ff" fill-opacity="0.7"/><polygon points="2245.5,740.1 2267.8,724.9 2260.1,724.0 2311.3,641.2 2310.7,640.8 2254.6,720.3 2251.2,714.5" fill="none" stroke="#fff" stroke-width="3" stroke-linejoin="round"/><polygon points="2245.5,740.1 2267.8,724.9 2260.1,724.0 2311.3,641.2 2310.7,640.8 2254.6,720.3 2251.2,714.5" fill="#0000ff" fill-opacity="0.7"/>
</svg></body></html>
